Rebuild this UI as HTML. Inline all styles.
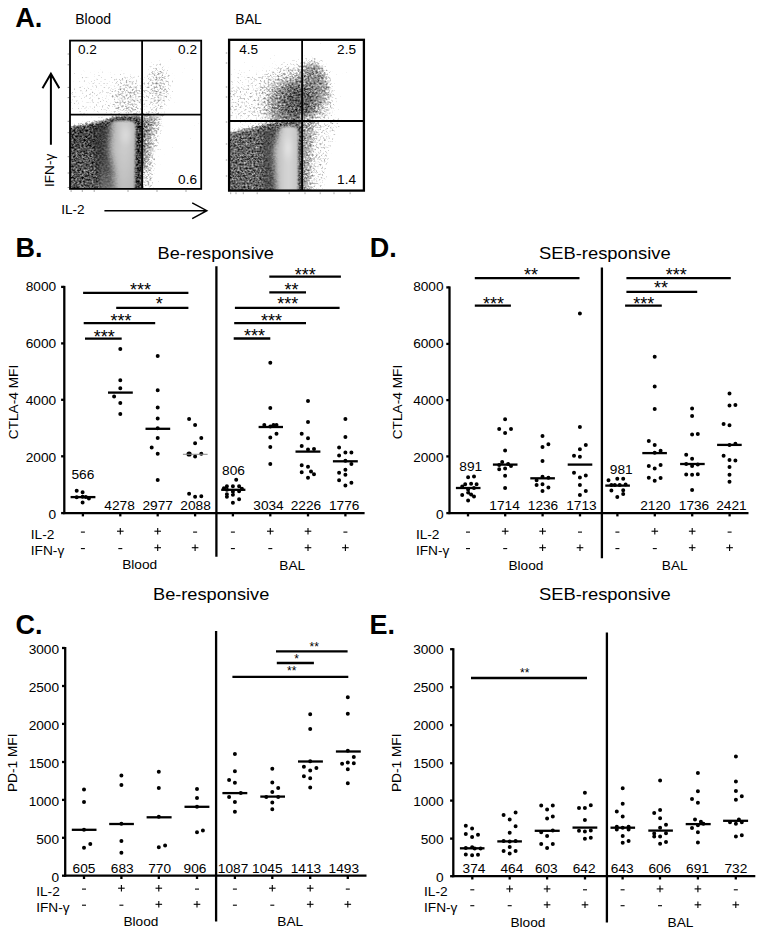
<!DOCTYPE html>
<html><head><meta charset="utf-8"><title>Figure</title>
<style>html,body{margin:0;padding:0;background:#fff}svg{display:block}text{font-family:"Liberation Sans", sans-serif;fill:#000}</style></head><body>
<svg width="762" height="935" viewBox="0 0 762 935">
<rect width="762" height="935" fill="#fff"/>
<defs>
<filter id="stip" x="0" y="0" width="100%" height="100%" filterUnits="objectBoundingBox" color-interpolation-filters="sRGB">
<feGaussianBlur in="SourceGraphic" stdDeviation="1.6" result="d"/>
<feTurbulence type="fractalNoise" baseFrequency="0.5 0.53" numOctaves="2" seed="7" result="n"/>
<feColorMatrix in="n" type="matrix" values="1 0 0 0 0  1 0 0 0 0  1 0 0 0 0  0 0 0 0 1" result="ng"/>
<feComposite in="d" in2="ng" operator="arithmetic" k1="0" k2="1.7" k3="1.15" k4="-0.93"/>
</filter>
<filter id="bl3" x="-20%" y="-20%" width="140%" height="140%"><feGaussianBlur stdDeviation="2.5"/></filter>
<filter id="bl2" x="-20%" y="-20%" width="140%" height="140%"><feGaussianBlur stdDeviation="1.5"/></filter>
<filter id="bl5" x="-50%" y="-50%" width="200%" height="200%"><feGaussianBlur stdDeviation="5"/></filter>
<filter id="bl8" x="-50%" y="-50%" width="200%" height="200%"><feGaussianBlur stdDeviation="8"/></filter>
<radialGradient id="gS1"><stop offset="0" stop-color="#dcdcdc" stop-opacity="1"/><stop offset="0.6" stop-color="#e6e6e6" stop-opacity="1"/><stop offset="1" stop-color="#fff" stop-opacity="1"/></radialGradient>
<radialGradient id="gS2"><stop offset="0" stop-color="#bdbdbd" stop-opacity="1"/><stop offset="0.5" stop-color="#d0d0d0" stop-opacity="1"/><stop offset="1" stop-color="#fff" stop-opacity="1"/></radialGradient>
<radialGradient id="gS3"><stop offset="0" stop-color="#cccccc" stop-opacity="1"/><stop offset="0.6" stop-color="#dddddd" stop-opacity="1"/><stop offset="1" stop-color="#fff" stop-opacity="1"/></radialGradient>
<radialGradient id="gBlob"><stop offset="0" stop-color="#606060" stop-opacity="1"/><stop offset="0.4" stop-color="#707070" stop-opacity="1"/><stop offset="0.62" stop-color="#9a9a9a" stop-opacity="1"/><stop offset="0.8" stop-color="#cfcfcf" stop-opacity="1"/><stop offset="1" stop-color="#ffffff" stop-opacity="1"/></radialGradient>
<radialGradient id="gBlob2"><stop offset="0" stop-color="#6a6a6a" stop-opacity="0.9"/><stop offset="0.5" stop-color="#707070" stop-opacity="0.7"/><stop offset="0.8" stop-color="#909090" stop-opacity="0.3"/><stop offset="1" stop-color="#b0b0b0" stop-opacity="0"/></radialGradient>
<radialGradient id="gLRc"><stop offset="0" stop-color="#666" stop-opacity="1"/><stop offset="0.5" stop-color="#8a8a8a" stop-opacity="0.9"/><stop offset="1" stop-color="#ccc" stop-opacity="0"/></radialGradient>
<radialGradient id="gHot2"><stop offset="0" stop-color="#e4e4e4" stop-opacity="1"/><stop offset="0.5" stop-color="#dcdcdc" stop-opacity="0.7"/><stop offset="1" stop-color="#d4d4d4" stop-opacity="0"/></radialGradient>
<radialGradient id="gHot"><stop offset="0" stop-color="#dcdcdc" stop-opacity="1"/><stop offset="0.5" stop-color="#d6d6d6" stop-opacity="0.7"/><stop offset="1" stop-color="#d0d0d0" stop-opacity="0"/></radialGradient>
<linearGradient id="gFade" x1="0" y1="0" x2="0" y2="1"><stop offset="0" stop-color="#a8a8a8" stop-opacity="0"/><stop offset="1" stop-color="#a8a8a8" stop-opacity="0.45"/></linearGradient>
<linearGradient id="gLR1" gradientUnits="userSpaceOnUse" x1="142" y1="0" x2="164" y2="0"><stop offset="0" stop-color="#909090"/><stop offset="0.5" stop-color="#c0c0c0"/><stop offset="1" stop-color="#f4f4f4"/></linearGradient>
<linearGradient id="gLR2" gradientUnits="userSpaceOnUse" x1="302" y1="0" x2="338" y2="0"><stop offset="0" stop-color="#7a7a7a"/><stop offset="0.25" stop-color="#a8a8a8"/><stop offset="0.5" stop-color="#d8d8d8"/><stop offset="1" stop-color="#f6f6f6"/></linearGradient>
<linearGradient id="gCore1" gradientUnits="userSpaceOnUse" x1="104" y1="0" x2="136" y2="0"><stop offset="0" stop-color="#b0b0b0"/><stop offset="0.4" stop-color="#c2c2c2"/><stop offset="0.64" stop-color="#d0d0d0"/><stop offset="1" stop-color="#bababa"/></linearGradient>
<linearGradient id="gCore2" gradientUnits="userSpaceOnUse" x1="268" y1="0" x2="299" y2="0"><stop offset="0" stop-color="#b4b4b4"/><stop offset="0.4" stop-color="#c6c6c6"/><stop offset="0.65" stop-color="#d8d8d8"/><stop offset="1" stop-color="#c2c2c2"/></linearGradient>
<filter id="bl35" x="-30%" y="-30%" width="160%" height="160%"><feGaussianBlur stdDeviation="3.3"/></filter>
<filter id="bl1" x="-10%" y="-10%" width="120%" height="120%"><feGaussianBlur stdDeviation="1.2"/></filter>
<filter id="bl07" x="-10%" y="-10%" width="120%" height="120%"><feGaussianBlur stdDeviation="0.85"/></filter>
<clipPath id="cpCore1"><path d="M90 200 L90 150 L104 128 Q109 120.8 118 120.8 L130.5 120.8 Q135.8 120.8 135.8 127 L134.6 200Z"/></clipPath>
<clipPath id="cpCore2"><path d="M250 200 L250 160 L272 136 Q278 126.6 286 126.6 L292.5 126.6 Q298.3 126.6 298.3 133 L298.1 200Z"/></clipPath>
<clipPath id="cpA1"><rect x="70" y="40.6" width="131.5" height="148.3"/></clipPath>
<clipPath id="cpA2"><rect x="229.1" y="39.8" width="134.8" height="150.8"/></clipPath>
</defs>
<g clip-path="url(#cpA1)">
<g filter="url(#stip)">
<rect x="60" y="30.6" width="151.2" height="168.3" fill="#fff"/>
<ellipse cx="100" cy="96" rx="40" ry="26" fill="#dadada" filter="url(#bl8)"/>
<ellipse cx="129" cy="98" rx="16" ry="23" fill="#bfbfbf" filter="url(#bl5)"/>
<ellipse cx="158" cy="87" rx="13" ry="25" fill="#bcbcbc" filter="url(#bl5)"/>
<path d="M142 111 L166 111 L160 138 L155 165 L153 194.9 L142 194.9Z" fill="#bcbcbc" filter="url(#bl3)"/>
<path d="M138 116 L155 116 L150 140 L146 170 L138 170Z" fill="#888888" filter="url(#bl3)"/>
<path d="M62 127.5 L96 122 L112 118 L122 116.6 L136 116.4 Q142 116.4 142 122 L142 194.9 L62 194.9Z" fill="#5e5e5e" filter="url(#bl1)"/>
<path d="M136.2 121 L141.5 121 L141.5 194.9 L136 194.9Z" fill="#535353" filter="url(#bl1)"/>
<path d="M112 117.6 L140 117 L140 121 L108 121.4Z" fill="#535353" filter="url(#bl1)"/>
<path d="M92 126 L114 123 L118 175 L98 175Z" fill="#525252" filter="url(#bl3)"/>
<path d="M62 152 L94 148 L100 194.9 L62 194.9Z" fill="#686868" filter="url(#bl3)"/>
</g>
<path d="M94 128 L112 124 L116 196.9 L100 196.9 L96 160Z" fill="#454545" opacity="0.6" filter="url(#bl3)"/>
<g filter="url(#bl07)"><g clip-path="url(#cpCore1)">
<path d="M111 105 L160 105 L160 200.9 L115.5 200.9 L113 170 L108.5 150 L110.5 128Z" fill="url(#gCore1)" filter="url(#bl35)"/>
<ellipse cx="125.5" cy="135" rx="8" ry="14" fill="url(#gHot)"/>
<rect x="100" y="150" width="40" height="45" fill="url(#gFade)"/>
</g></g>
</g>
<line x1="142.1" y1="40.6" x2="142.1" y2="188.9" stroke="#000" stroke-width="1.8"/>
<line x1="70" y1="114.7" x2="201.2" y2="114.7" stroke="#000" stroke-width="1.8"/>
<rect x="70" y="40.6" width="131.2" height="148.3" fill="none" stroke="#000" stroke-width="1.8"/>
<line x1="67.6" y1="54" x2="69" y2="54" stroke="#999" stroke-width="1"/>
<line x1="67.6" y1="64.8" x2="69" y2="64.8" stroke="#999" stroke-width="1"/>
<line x1="67.6" y1="87.4" x2="69" y2="87.4" stroke="#999" stroke-width="1"/>
<line x1="67.6" y1="97.6" x2="69" y2="97.6" stroke="#999" stroke-width="1"/>
<line x1="67.6" y1="121.3" x2="69" y2="121.3" stroke="#999" stroke-width="1"/>
<line x1="67.6" y1="132.7" x2="69" y2="132.7" stroke="#999" stroke-width="1"/>
<line x1="67.6" y1="156.7" x2="69" y2="156.7" stroke="#999" stroke-width="1"/>
<line x1="67.6" y1="173" x2="69" y2="173" stroke="#999" stroke-width="1"/>
<line x1="67.6" y1="187.5" x2="69" y2="187.5" stroke="#999" stroke-width="1"/>
<line x1="71.1" y1="190" x2="71.1" y2="192" stroke="#aaa" stroke-width="1"/>
<line x1="82.3" y1="190" x2="82.3" y2="192" stroke="#aaa" stroke-width="1"/>
<line x1="94.2" y1="190" x2="94.2" y2="192" stroke="#aaa" stroke-width="1"/>
<line x1="128" y1="190" x2="128" y2="192" stroke="#aaa" stroke-width="1"/>
<line x1="157" y1="190" x2="157" y2="192" stroke="#aaa" stroke-width="1"/>
<line x1="186" y1="190" x2="186" y2="192" stroke="#aaa" stroke-width="1"/>
<text x="78" y="54.3" font-size="13.6">0.2</text>
<text x="197" y="54.3" font-size="13.6" text-anchor="end">0.2</text>
<text x="197" y="184.1" font-size="13.6" text-anchor="end">0.6</text>
<g clip-path="url(#cpA2)">
<g filter="url(#stip)">
<rect x="219.1" y="29.799999999999997" width="154.79999999999998" height="170.8" fill="#fff"/>
<path d="M215 80 L262 70 L300 64 L300 125 L215 125Z" fill="#cecece" filter="url(#bl8)"/>
<ellipse cx="297" cy="101" rx="39" ry="37" fill="#bcbcbc" filter="url(#bl5)"/>
<ellipse cx="293" cy="105" rx="24" ry="25" fill="#888888" filter="url(#bl5)"/>
<ellipse cx="313" cy="84" rx="15" ry="24" fill="#888888" filter="url(#bl5)"/>
<ellipse cx="298" cy="103" rx="15" ry="19" fill="#6b6b6b" filter="url(#bl5)"/>
<path d="M302 117 L342 117 L330 150 L324 196.6 L302 196.6Z" fill="#cbcbcb" filter="url(#bl3)"/>
<path d="M300 119 L316 119 L312 150 L310 196.6 L300 196.6Z" fill="#989898" filter="url(#bl3)"/>
<path d="M221.1 134 L250 127.5 L268 123.5 L280 122 L302 121.5 L302 196.6 L221.1 196.6Z" fill="#717171" filter="url(#bl2)"/>
<path d="M298.4 127 L302 127 L302 196.6 L298.2 196.6Z" fill="#565656" filter="url(#bl1)"/>
<path d="M262 128 L280 126 L280 196.6 L264 196.6Z" fill="#5f5f5f" filter="url(#bl3)"/>
</g>
<path d="M262 132 L276 128 L278 198.6 L265 198.6Z" fill="#5a5a5a" opacity="0.55" filter="url(#bl3)"/>
<g filter="url(#bl07)"><g clip-path="url(#cpCore2)">
<path d="M284 110 L320 110 L320 202.6 L277 202.6 L273.5 150Z" fill="url(#gCore2)" filter="url(#bl3)"/>
<ellipse cx="288" cy="148" rx="7" ry="18" fill="url(#gHot2)"/>
</g></g>
</g>
<line x1="302.1" y1="39.8" x2="302.1" y2="190.6" stroke="#000" stroke-width="1.8"/>
<line x1="229.1" y1="121" x2="363.9" y2="121" stroke="#000" stroke-width="1.8"/>
<rect x="229.1" y="39.8" width="134.79999999999998" height="150.8" fill="none" stroke="#000" stroke-width="2.3"/>
<line x1="225.8" y1="53" x2="227.2" y2="53" stroke="#999" stroke-width="1"/>
<line x1="225.8" y1="63" x2="227.2" y2="63" stroke="#999" stroke-width="1"/>
<line x1="225.8" y1="87" x2="227.2" y2="87" stroke="#999" stroke-width="1"/>
<line x1="225.8" y1="97" x2="227.2" y2="97" stroke="#999" stroke-width="1"/>
<line x1="225.8" y1="122" x2="227.2" y2="122" stroke="#999" stroke-width="1"/>
<line x1="225.8" y1="144" x2="227.2" y2="144" stroke="#999" stroke-width="1"/>
<line x1="225.8" y1="160" x2="227.2" y2="160" stroke="#999" stroke-width="1"/>
<line x1="225.8" y1="176" x2="227.2" y2="176" stroke="#999" stroke-width="1"/>
<line x1="230.7" y1="192.3" x2="230.7" y2="194.2" stroke="#aaa" stroke-width="1"/>
<line x1="236" y1="192.3" x2="236" y2="194.2" stroke="#aaa" stroke-width="1"/>
<line x1="243.3" y1="192.3" x2="243.3" y2="194.2" stroke="#aaa" stroke-width="1"/>
<line x1="257.2" y1="192.3" x2="257.2" y2="194.2" stroke="#aaa" stroke-width="1"/>
<line x1="289.2" y1="192.3" x2="289.2" y2="194.2" stroke="#aaa" stroke-width="1"/>
<line x1="305" y1="192.3" x2="305" y2="194.2" stroke="#aaa" stroke-width="1"/>
<line x1="320.2" y1="192.3" x2="320.2" y2="194.2" stroke="#aaa" stroke-width="1"/>
<line x1="334" y1="192.3" x2="334" y2="194.2" stroke="#aaa" stroke-width="1"/>
<line x1="350.1" y1="192.3" x2="350.1" y2="194.2" stroke="#aaa" stroke-width="1"/>
<text x="239.2" y="54" font-size="13.6">4.5</text>
<text x="356" y="54" font-size="13.6" text-anchor="end">2.5</text>
<text x="356" y="184" font-size="13.6" text-anchor="end">1.4</text>
<text x="15.2" y="26.8" font-size="27.2" font-weight="bold">A.</text>
<text x="75.2" y="23.5" font-size="14">Blood</text>
<text x="235.3" y="23.5" font-size="14">BAL</text>
<text x="54.3" y="187" font-size="13.6" transform="rotate(-90 54.3 187)">IFN-γ</text>
<text x="61.2" y="214" font-size="13.6">IL-2</text>
<path d="M50.9 144.7 L50.9 74.5 M42.5 88.3 L50.9 73.8 L59.3 88.3" fill="none" stroke="#000" stroke-width="2" stroke-linejoin="miter"/>
<path d="M104.4 210.7 L206 210.7 M192.2 202.8 L206.8 210.7 L192.2 218.6" fill="none" stroke="#000" stroke-width="1.5" stroke-linejoin="miter"/>
<line x1="64.3" y1="285.9" x2="64.3" y2="514.1" stroke="#000" stroke-width="2.3" stroke-linecap="butt"/>
<line x1="63.3" y1="513.1" x2="364.6" y2="513.1" stroke="#000" stroke-width="2.3" stroke-linecap="butt"/>
<line x1="61.099999999999994" y1="286.9" x2="64.3" y2="286.9" stroke="#000" stroke-width="2.3" stroke-linecap="butt"/>
<text x="56.2" y="291.1" font-size="13.7" text-anchor="end" font-weight="normal">8000</text>
<line x1="61.099999999999994" y1="343.4" x2="64.3" y2="343.4" stroke="#000" stroke-width="2.3" stroke-linecap="butt"/>
<text x="56.2" y="347.97" font-size="13.7" text-anchor="end" font-weight="normal">6000</text>
<line x1="61.099999999999994" y1="399.8" x2="64.3" y2="399.8" stroke="#000" stroke-width="2.3" stroke-linecap="butt"/>
<text x="56.2" y="404.85" font-size="13.7" text-anchor="end" font-weight="normal">4000</text>
<line x1="61.099999999999994" y1="456.3" x2="64.3" y2="456.3" stroke="#000" stroke-width="2.3" stroke-linecap="butt"/>
<text x="56.2" y="461.73" font-size="13.7" text-anchor="end" font-weight="normal">2000</text>
<line x1="61.099999999999994" y1="513.1" x2="64.3" y2="513.1" stroke="#000" stroke-width="2.3" stroke-linecap="butt"/>
<text x="56.2" y="518.6" font-size="13.7" text-anchor="end" font-weight="normal">0</text>
<line x1="216.4" y1="266.2" x2="216.4" y2="556.7" stroke="#000" stroke-width="2.3" stroke-linecap="butt"/>
<line x1="82.9" y1="513.1" x2="82.9" y2="516.4" stroke="#000" stroke-width="2.3" stroke-linecap="butt"/>
<line x1="120.3" y1="513.1" x2="120.3" y2="516.4" stroke="#000" stroke-width="2.3" stroke-linecap="butt"/>
<line x1="157.7" y1="513.1" x2="157.7" y2="516.4" stroke="#000" stroke-width="2.3" stroke-linecap="butt"/>
<line x1="195.1" y1="513.1" x2="195.1" y2="516.4" stroke="#000" stroke-width="2.3" stroke-linecap="butt"/>
<line x1="232.9" y1="513.1" x2="232.9" y2="516.4" stroke="#000" stroke-width="2.3" stroke-linecap="butt"/>
<line x1="270.3" y1="513.1" x2="270.3" y2="516.4" stroke="#000" stroke-width="2.3" stroke-linecap="butt"/>
<line x1="308.0" y1="513.1" x2="308.0" y2="516.4" stroke="#000" stroke-width="2.3" stroke-linecap="butt"/>
<line x1="345.4" y1="513.1" x2="345.4" y2="516.4" stroke="#000" stroke-width="2.3" stroke-linecap="butt"/>
<text x="17.9" y="402" font-size="13.7" text-anchor="middle" font-weight="normal" transform="rotate(-90 17.9 402)">CTLA-4 MFI</text>
<text x="157.6" y="258.7" font-size="17.3" text-anchor="start" font-weight="normal" textLength="116.3" lengthAdjust="spacingAndGlyphs">Be-responsive</text>
<text x="15.5" y="256.8" font-size="27" text-anchor="start" font-weight="bold">B.</text>
<path d="M74.70 490.70a2.0 2.0 0 1 0 4.0 0a2.0 2.0 0 1 0 -4.0 0zM80.60 492.30a2.0 2.0 0 1 0 4.0 0a2.0 2.0 0 1 0 -4.0 0zM74.70 497.30a2.0 2.0 0 1 0 4.0 0a2.0 2.0 0 1 0 -4.0 0zM80.60 496.80a2.0 2.0 0 1 0 4.0 0a2.0 2.0 0 1 0 -4.0 0zM83.80 497.00a2.0 2.0 0 1 0 4.0 0a2.0 2.0 0 1 0 -4.0 0zM86.90 498.60a2.0 2.0 0 1 0 4.0 0a2.0 2.0 0 1 0 -4.0 0zM80.60 502.50a2.0 2.0 0 1 0 4.0 0a2.0 2.0 0 1 0 -4.0 0z" fill="#000"/>
<line x1="70.6" y1="497.1" x2="95.4" y2="497.1" stroke="#000" stroke-width="2.3" stroke-linecap="butt"/>
<text x="82.9" y="478.8" font-size="13.7" text-anchor="middle" font-weight="normal">566</text>
<path d="M118.30 349.00a2.0 2.0 0 1 0 4.0 0a2.0 2.0 0 1 0 -4.0 0zM118.30 380.30a2.0 2.0 0 1 0 4.0 0a2.0 2.0 0 1 0 -4.0 0zM118.30 388.20a2.0 2.0 0 1 0 4.0 0a2.0 2.0 0 1 0 -4.0 0zM112.10 396.40a2.0 2.0 0 1 0 4.0 0a2.0 2.0 0 1 0 -4.0 0zM118.30 402.90a2.0 2.0 0 1 0 4.0 0a2.0 2.0 0 1 0 -4.0 0zM118.30 414.00a2.0 2.0 0 1 0 4.0 0a2.0 2.0 0 1 0 -4.0 0z" fill="#000"/>
<line x1="108" y1="392.6" x2="132.8" y2="392.6" stroke="#000" stroke-width="2.3" stroke-linecap="butt"/>
<text x="119.6" y="510" font-size="13.7" text-anchor="middle" font-weight="normal">4278</text>
<path d="M155.70 356.00a2.0 2.0 0 1 0 4.0 0a2.0 2.0 0 1 0 -4.0 0zM155.70 390.20a2.0 2.0 0 1 0 4.0 0a2.0 2.0 0 1 0 -4.0 0zM155.70 407.60a2.0 2.0 0 1 0 4.0 0a2.0 2.0 0 1 0 -4.0 0zM155.70 418.40a2.0 2.0 0 1 0 4.0 0a2.0 2.0 0 1 0 -4.0 0zM155.70 428.30a2.0 2.0 0 1 0 4.0 0a2.0 2.0 0 1 0 -4.0 0zM155.70 438.10a2.0 2.0 0 1 0 4.0 0a2.0 2.0 0 1 0 -4.0 0zM155.70 453.80a2.0 2.0 0 1 0 4.0 0a2.0 2.0 0 1 0 -4.0 0zM155.70 479.90a2.0 2.0 0 1 0 4.0 0a2.0 2.0 0 1 0 -4.0 0zM149.70 447.50a2.0 2.0 0 1 0 4.0 0a2.0 2.0 0 1 0 -4.0 0z" fill="#000"/>
<line x1="145.5" y1="428.8" x2="170.2" y2="428.8" stroke="#000" stroke-width="2.3" stroke-linecap="butt"/>
<text x="157.7" y="510" font-size="13.7" text-anchor="middle" font-weight="normal">2977</text>
<path d="M187.10 419.10a2.0 2.0 0 1 0 4.0 0a2.0 2.0 0 1 0 -4.0 0zM193.10 424.90a2.0 2.0 0 1 0 4.0 0a2.0 2.0 0 1 0 -4.0 0zM199.30 438.10a2.0 2.0 0 1 0 4.0 0a2.0 2.0 0 1 0 -4.0 0zM193.10 443.30a2.0 2.0 0 1 0 4.0 0a2.0 2.0 0 1 0 -4.0 0zM186.50 454.00a2.6 2.6 0 1 0 5.2 0a2.6 2.6 0 1 0 -5.2 0zM199.30 453.80a2.0 2.0 0 1 0 4.0 0a2.0 2.0 0 1 0 -4.0 0zM193.10 456.60a2.0 2.0 0 1 0 4.0 0a2.0 2.0 0 1 0 -4.0 0zM187.10 493.80a2.0 2.0 0 1 0 4.0 0a2.0 2.0 0 1 0 -4.0 0zM193.10 496.80a2.0 2.0 0 1 0 4.0 0a2.0 2.0 0 1 0 -4.0 0zM199.30 496.30a2.0 2.0 0 1 0 4.0 0a2.0 2.0 0 1 0 -4.0 0z" fill="#000"/>
<line x1="182.9" y1="454.3" x2="207.6" y2="454.3" stroke="#888" stroke-width="1" stroke-linecap="butt"/>
<text x="195.6" y="510" font-size="13.7" text-anchor="middle" font-weight="normal">2088</text>
<path d="M234.20 479.80a2.0 2.0 0 1 0 4.0 0a2.0 2.0 0 1 0 -4.0 0zM224.90 486.30a2.0 2.0 0 1 0 4.0 0a2.0 2.0 0 1 0 -4.0 0zM230.90 486.30a2.0 2.0 0 1 0 4.0 0a2.0 2.0 0 1 0 -4.0 0zM237.10 486.30a2.0 2.0 0 1 0 4.0 0a2.0 2.0 0 1 0 -4.0 0zM221.90 488.30a2.0 2.0 0 1 0 4.0 0a2.0 2.0 0 1 0 -4.0 0zM239.90 488.80a2.0 2.0 0 1 0 4.0 0a2.0 2.0 0 1 0 -4.0 0zM224.90 489.80a2.0 2.0 0 1 0 4.0 0a2.0 2.0 0 1 0 -4.0 0zM230.90 491.80a2.0 2.0 0 1 0 4.0 0a2.0 2.0 0 1 0 -4.0 0zM237.10 491.30a2.0 2.0 0 1 0 4.0 0a2.0 2.0 0 1 0 -4.0 0zM224.90 494.30a2.0 2.0 0 1 0 4.0 0a2.0 2.0 0 1 0 -4.0 0zM230.90 494.80a2.0 2.0 0 1 0 4.0 0a2.0 2.0 0 1 0 -4.0 0zM224.90 496.70a2.0 2.0 0 1 0 4.0 0a2.0 2.0 0 1 0 -4.0 0zM237.10 499.20a2.0 2.0 0 1 0 4.0 0a2.0 2.0 0 1 0 -4.0 0zM230.90 502.70a2.0 2.0 0 1 0 4.0 0a2.0 2.0 0 1 0 -4.0 0z" fill="#000"/>
<line x1="221.2" y1="489.8" x2="245.4" y2="489.8" stroke="#000" stroke-width="2.3" stroke-linecap="butt"/>
<text x="233.5" y="474.8" font-size="13.7" text-anchor="middle" font-weight="normal">806</text>
<path d="M268.30 362.70a2.0 2.0 0 1 0 4.0 0a2.0 2.0 0 1 0 -4.0 0zM268.30 407.90a2.0 2.0 0 1 0 4.0 0a2.0 2.0 0 1 0 -4.0 0zM268.30 426.50a2.0 2.0 0 1 0 4.0 0a2.0 2.0 0 1 0 -4.0 0zM268.30 437.40a2.0 2.0 0 1 0 4.0 0a2.0 2.0 0 1 0 -4.0 0zM268.30 446.90a2.0 2.0 0 1 0 4.0 0a2.0 2.0 0 1 0 -4.0 0zM268.30 464.10a2.0 2.0 0 1 0 4.0 0a2.0 2.0 0 1 0 -4.0 0zM262.30 425.00a2.0 2.0 0 1 0 4.0 0a2.0 2.0 0 1 0 -4.0 0zM271.50 425.00a2.0 2.0 0 1 0 4.0 0a2.0 2.0 0 1 0 -4.0 0zM274.50 425.00a2.0 2.0 0 1 0 4.0 0a2.0 2.0 0 1 0 -4.0 0zM274.50 433.70a2.0 2.0 0 1 0 4.0 0a2.0 2.0 0 1 0 -4.0 0z" fill="#000"/>
<line x1="258.6" y1="427" x2="283" y2="427" stroke="#000" stroke-width="2.3" stroke-linecap="butt"/>
<text x="268.5" y="510.2" font-size="13.7" text-anchor="middle" font-weight="normal">3034</text>
<path d="M306.00 401.00a2.0 2.0 0 1 0 4.0 0a2.0 2.0 0 1 0 -4.0 0zM306.00 422.00a2.0 2.0 0 1 0 4.0 0a2.0 2.0 0 1 0 -4.0 0zM306.00 438.20a2.0 2.0 0 1 0 4.0 0a2.0 2.0 0 1 0 -4.0 0zM306.00 449.40a2.0 2.0 0 1 0 4.0 0a2.0 2.0 0 1 0 -4.0 0zM306.00 466.80a2.0 2.0 0 1 0 4.0 0a2.0 2.0 0 1 0 -4.0 0zM306.00 477.80a2.0 2.0 0 1 0 4.0 0a2.0 2.0 0 1 0 -4.0 0zM299.70 433.80a2.0 2.0 0 1 0 4.0 0a2.0 2.0 0 1 0 -4.0 0zM299.70 446.10a2.0 2.0 0 1 0 4.0 0a2.0 2.0 0 1 0 -4.0 0zM312.00 448.90a2.0 2.0 0 1 0 4.0 0a2.0 2.0 0 1 0 -4.0 0zM299.70 465.30a2.0 2.0 0 1 0 4.0 0a2.0 2.0 0 1 0 -4.0 0zM299.70 472.30a2.0 2.0 0 1 0 4.0 0a2.0 2.0 0 1 0 -4.0 0zM309.00 471.60a2.0 2.0 0 1 0 4.0 0a2.0 2.0 0 1 0 -4.0 0zM312.00 474.30a2.0 2.0 0 1 0 4.0 0a2.0 2.0 0 1 0 -4.0 0z" fill="#000"/>
<line x1="295.5" y1="451.6" x2="320.4" y2="451.6" stroke="#000" stroke-width="2.3" stroke-linecap="butt"/>
<text x="305.9" y="510.2" font-size="13.7" text-anchor="middle" font-weight="normal">2226</text>
<path d="M343.40 419.00a2.0 2.0 0 1 0 4.0 0a2.0 2.0 0 1 0 -4.0 0zM343.40 437.00a2.0 2.0 0 1 0 4.0 0a2.0 2.0 0 1 0 -4.0 0zM343.40 452.60a2.0 2.0 0 1 0 4.0 0a2.0 2.0 0 1 0 -4.0 0zM343.40 460.80a2.0 2.0 0 1 0 4.0 0a2.0 2.0 0 1 0 -4.0 0zM343.40 469.80a2.0 2.0 0 1 0 4.0 0a2.0 2.0 0 1 0 -4.0 0zM343.40 474.80a2.0 2.0 0 1 0 4.0 0a2.0 2.0 0 1 0 -4.0 0zM343.40 485.50a2.0 2.0 0 1 0 4.0 0a2.0 2.0 0 1 0 -4.0 0zM337.10 447.40a2.0 2.0 0 1 0 4.0 0a2.0 2.0 0 1 0 -4.0 0zM349.40 452.60a2.0 2.0 0 1 0 4.0 0a2.0 2.0 0 1 0 -4.0 0zM337.10 455.40a2.0 2.0 0 1 0 4.0 0a2.0 2.0 0 1 0 -4.0 0zM349.40 464.10a2.0 2.0 0 1 0 4.0 0a2.0 2.0 0 1 0 -4.0 0zM337.10 472.80a2.0 2.0 0 1 0 4.0 0a2.0 2.0 0 1 0 -4.0 0zM337.10 480.30a2.0 2.0 0 1 0 4.0 0a2.0 2.0 0 1 0 -4.0 0zM349.40 482.80a2.0 2.0 0 1 0 4.0 0a2.0 2.0 0 1 0 -4.0 0z" fill="#000"/>
<line x1="332.9" y1="461.3" x2="357.8" y2="461.3" stroke="#000" stroke-width="2.3" stroke-linecap="butt"/>
<text x="344.2" y="510.2" font-size="13.7" text-anchor="middle" font-weight="normal">1776</text>
<line x1="83.1" y1="292.9" x2="188.4" y2="292.9" stroke="#000" stroke-width="2.3" stroke-linecap="butt"/>
<line x1="116.2" y1="307.9" x2="188.4" y2="307.9" stroke="#000" stroke-width="2.3" stroke-linecap="butt"/>
<line x1="83.7" y1="323.2" x2="155.2" y2="323.2" stroke="#000" stroke-width="2.3" stroke-linecap="butt"/>
<line x1="85" y1="338.6" x2="121.7" y2="338.6" stroke="#000" stroke-width="2.3" stroke-linecap="butt"/>
<line x1="269.3" y1="276.7" x2="340.9" y2="276.7" stroke="#000" stroke-width="2.3" stroke-linecap="butt"/>
<line x1="269.3" y1="292.4" x2="306" y2="292.4" stroke="#000" stroke-width="2.3" stroke-linecap="butt"/>
<line x1="234.9" y1="307.9" x2="339.6" y2="307.9" stroke="#000" stroke-width="2.3" stroke-linecap="butt"/>
<line x1="234.2" y1="323.1" x2="306" y2="323.1" stroke="#000" stroke-width="2.3" stroke-linecap="butt"/>
<line x1="233.7" y1="338.5" x2="270.3" y2="338.5" stroke="#000" stroke-width="2.3" stroke-linecap="butt"/>
<text x="140.5" y="295.64" font-size="18" text-anchor="middle" font-weight="normal">***</text>
<text x="159.2" y="310.34" font-size="18" text-anchor="middle" font-weight="normal">*</text>
<text x="121" y="326.74" font-size="18" text-anchor="middle" font-weight="normal">***</text>
<text x="104.3" y="342.94" font-size="18" text-anchor="middle" font-weight="normal">***</text>
<text x="305.2" y="280.54" font-size="18" text-anchor="middle" font-weight="normal">***</text>
<text x="291.5" y="295.54" font-size="18" text-anchor="middle" font-weight="normal">**</text>
<text x="287.8" y="310.24" font-size="18" text-anchor="middle" font-weight="normal">***</text>
<text x="271.6" y="326.74" font-size="18" text-anchor="middle" font-weight="normal">***</text>
<text x="254.4" y="342.14" font-size="18" text-anchor="middle" font-weight="normal">***</text>
<line x1="80.9" y1="532.1" x2="84.9" y2="532.1" stroke="#000" stroke-width="1.1" stroke-linecap="butt"/>
<line x1="80.9" y1="548.6" x2="84.9" y2="548.6" stroke="#000" stroke-width="1.1" stroke-linecap="butt"/>
<line x1="117.0" y1="531.2" x2="123.6" y2="531.2" stroke="#000" stroke-width="1.1" stroke-linecap="butt"/>
<line x1="120.3" y1="527.9000000000001" x2="120.3" y2="534.5" stroke="#000" stroke-width="1.1" stroke-linecap="butt"/>
<line x1="118.3" y1="548.6" x2="122.3" y2="548.6" stroke="#000" stroke-width="1.1" stroke-linecap="butt"/>
<line x1="154.39999999999998" y1="531.2" x2="161.0" y2="531.2" stroke="#000" stroke-width="1.1" stroke-linecap="butt"/>
<line x1="157.7" y1="527.9000000000001" x2="157.7" y2="534.5" stroke="#000" stroke-width="1.1" stroke-linecap="butt"/>
<line x1="154.39999999999998" y1="547.7" x2="161.0" y2="547.7" stroke="#000" stroke-width="1.1" stroke-linecap="butt"/>
<line x1="157.7" y1="544.4000000000001" x2="157.7" y2="551.0" stroke="#000" stroke-width="1.1" stroke-linecap="butt"/>
<line x1="193.1" y1="532.1" x2="197.1" y2="532.1" stroke="#000" stroke-width="1.1" stroke-linecap="butt"/>
<line x1="191.79999999999998" y1="547.7" x2="198.4" y2="547.7" stroke="#000" stroke-width="1.1" stroke-linecap="butt"/>
<line x1="195.1" y1="544.4000000000001" x2="195.1" y2="551.0" stroke="#000" stroke-width="1.1" stroke-linecap="butt"/>
<line x1="230.9" y1="532.1" x2="234.9" y2="532.1" stroke="#000" stroke-width="1.1" stroke-linecap="butt"/>
<line x1="230.9" y1="548.6" x2="234.9" y2="548.6" stroke="#000" stroke-width="1.1" stroke-linecap="butt"/>
<line x1="267.0" y1="531.2" x2="273.6" y2="531.2" stroke="#000" stroke-width="1.1" stroke-linecap="butt"/>
<line x1="270.3" y1="527.9000000000001" x2="270.3" y2="534.5" stroke="#000" stroke-width="1.1" stroke-linecap="butt"/>
<line x1="268.3" y1="548.6" x2="272.3" y2="548.6" stroke="#000" stroke-width="1.1" stroke-linecap="butt"/>
<line x1="304.7" y1="531.2" x2="311.3" y2="531.2" stroke="#000" stroke-width="1.1" stroke-linecap="butt"/>
<line x1="308.0" y1="527.9000000000001" x2="308.0" y2="534.5" stroke="#000" stroke-width="1.1" stroke-linecap="butt"/>
<line x1="304.7" y1="547.7" x2="311.3" y2="547.7" stroke="#000" stroke-width="1.1" stroke-linecap="butt"/>
<line x1="308.0" y1="544.4000000000001" x2="308.0" y2="551.0" stroke="#000" stroke-width="1.1" stroke-linecap="butt"/>
<line x1="343.4" y1="532.1" x2="347.4" y2="532.1" stroke="#000" stroke-width="1.1" stroke-linecap="butt"/>
<line x1="342.09999999999997" y1="547.7" x2="348.7" y2="547.7" stroke="#000" stroke-width="1.1" stroke-linecap="butt"/>
<line x1="345.4" y1="544.4000000000001" x2="345.4" y2="551.0" stroke="#000" stroke-width="1.1" stroke-linecap="butt"/>
<text x="30.8" y="538.9" font-size="13.7" text-anchor="start" font-weight="normal">IL-2</text>
<text x="30.8" y="555.1" font-size="13.7" text-anchor="start" font-weight="normal">IFN-γ</text>
<text x="139.7" y="569.3" font-size="13.7" text-anchor="middle" font-weight="normal">Blood</text>
<text x="292.3" y="569.6" font-size="13.7" text-anchor="middle" font-weight="normal">BAL</text>
<line x1="449.5" y1="286.4" x2="449.5" y2="514.1" stroke="#000" stroke-width="2.3" stroke-linecap="butt"/>
<line x1="448.5" y1="513.1" x2="748.5" y2="513.1" stroke="#000" stroke-width="2.3" stroke-linecap="butt"/>
<line x1="446.3" y1="287.4" x2="449.5" y2="287.4" stroke="#000" stroke-width="2.3" stroke-linecap="butt"/>
<text x="443.6" y="291.3" font-size="13.7" text-anchor="end" font-weight="normal">8000</text>
<line x1="446.3" y1="343.9" x2="449.5" y2="343.9" stroke="#000" stroke-width="2.3" stroke-linecap="butt"/>
<text x="443.6" y="348.12" font-size="13.7" text-anchor="end" font-weight="normal">6000</text>
<line x1="446.3" y1="400.1" x2="449.5" y2="400.1" stroke="#000" stroke-width="2.3" stroke-linecap="butt"/>
<text x="443.6" y="404.95" font-size="13.7" text-anchor="end" font-weight="normal">4000</text>
<line x1="446.3" y1="456.4" x2="449.5" y2="456.4" stroke="#000" stroke-width="2.3" stroke-linecap="butt"/>
<text x="443.6" y="461.77" font-size="13.7" text-anchor="end" font-weight="normal">2000</text>
<line x1="446.3" y1="513.1" x2="449.5" y2="513.1" stroke="#000" stroke-width="2.3" stroke-linecap="butt"/>
<text x="443.6" y="518.6" font-size="13.7" text-anchor="end" font-weight="normal">0</text>
<line x1="601.9" y1="267.4" x2="601.9" y2="558.3" stroke="#000" stroke-width="2.3" stroke-linecap="butt"/>
<line x1="468" y1="513.1" x2="468" y2="516.4" stroke="#000" stroke-width="2.3" stroke-linecap="butt"/>
<line x1="505.2" y1="513.1" x2="505.2" y2="516.4" stroke="#000" stroke-width="2.3" stroke-linecap="butt"/>
<line x1="542.6" y1="513.1" x2="542.6" y2="516.4" stroke="#000" stroke-width="2.3" stroke-linecap="butt"/>
<line x1="580" y1="513.1" x2="580" y2="516.4" stroke="#000" stroke-width="2.3" stroke-linecap="butt"/>
<line x1="617.4" y1="513.1" x2="617.4" y2="516.4" stroke="#000" stroke-width="2.3" stroke-linecap="butt"/>
<line x1="654.8" y1="513.1" x2="654.8" y2="516.4" stroke="#000" stroke-width="2.3" stroke-linecap="butt"/>
<line x1="692.2" y1="513.1" x2="692.2" y2="516.4" stroke="#000" stroke-width="2.3" stroke-linecap="butt"/>
<line x1="729.6" y1="513.1" x2="729.6" y2="516.4" stroke="#000" stroke-width="2.3" stroke-linecap="butt"/>
<text x="402.2" y="402" font-size="13.7" text-anchor="middle" font-weight="normal" transform="rotate(-90 402.2 402)">CTLA-4 MFI</text>
<text x="539.0" y="258.7" font-size="17.3" text-anchor="start" font-weight="normal" textLength="131.6" lengthAdjust="spacingAndGlyphs">SEB-responsive</text>
<text x="369.8" y="256.8" font-size="27" text-anchor="start" font-weight="bold">D.</text>
<path d="M466.10 477.20a2.0 2.0 0 1 0 4.0 0a2.0 2.0 0 1 0 -4.0 0zM472.00 476.40a2.0 2.0 0 1 0 4.0 0a2.0 2.0 0 1 0 -4.0 0zM463.20 484.30a2.0 2.0 0 1 0 4.0 0a2.0 2.0 0 1 0 -4.0 0zM469.10 483.70a2.0 2.0 0 1 0 4.0 0a2.0 2.0 0 1 0 -4.0 0zM474.60 484.30a2.0 2.0 0 1 0 4.0 0a2.0 2.0 0 1 0 -4.0 0zM460.20 486.60a2.0 2.0 0 1 0 4.0 0a2.0 2.0 0 1 0 -4.0 0zM466.10 489.60a2.0 2.0 0 1 0 4.0 0a2.0 2.0 0 1 0 -4.0 0zM472.00 488.00a2.0 2.0 0 1 0 4.0 0a2.0 2.0 0 1 0 -4.0 0zM460.20 495.10a2.0 2.0 0 1 0 4.0 0a2.0 2.0 0 1 0 -4.0 0zM466.10 492.50a2.0 2.0 0 1 0 4.0 0a2.0 2.0 0 1 0 -4.0 0zM469.10 494.50a2.0 2.0 0 1 0 4.0 0a2.0 2.0 0 1 0 -4.0 0zM472.00 496.50a2.0 2.0 0 1 0 4.0 0a2.0 2.0 0 1 0 -4.0 0zM466.10 500.40a2.0 2.0 0 1 0 4.0 0a2.0 2.0 0 1 0 -4.0 0z" fill="#000"/>
<line x1="455.9" y1="488" x2="480.5" y2="488" stroke="#000" stroke-width="2.3" stroke-linecap="butt"/>
<text x="470.7" y="470.9" font-size="13.7" text-anchor="middle" font-weight="normal">891</text>
<path d="M503.10 419.30a2.0 2.0 0 1 0 4.0 0a2.0 2.0 0 1 0 -4.0 0zM503.10 432.90a2.0 2.0 0 1 0 4.0 0a2.0 2.0 0 1 0 -4.0 0zM503.10 450.60a2.0 2.0 0 1 0 4.0 0a2.0 2.0 0 1 0 -4.0 0zM503.10 468.50a2.0 2.0 0 1 0 4.0 0a2.0 2.0 0 1 0 -4.0 0zM503.10 475.80a2.0 2.0 0 1 0 4.0 0a2.0 2.0 0 1 0 -4.0 0zM503.10 488.00a2.0 2.0 0 1 0 4.0 0a2.0 2.0 0 1 0 -4.0 0zM497.20 428.90a2.0 2.0 0 1 0 4.0 0a2.0 2.0 0 1 0 -4.0 0zM509.00 428.90a2.0 2.0 0 1 0 4.0 0a2.0 2.0 0 1 0 -4.0 0zM500.20 462.00a2.0 2.0 0 1 0 4.0 0a2.0 2.0 0 1 0 -4.0 0zM497.20 465.00a2.0 2.0 0 1 0 4.0 0a2.0 2.0 0 1 0 -4.0 0zM506.10 464.00a2.0 2.0 0 1 0 4.0 0a2.0 2.0 0 1 0 -4.0 0zM509.00 466.00a2.0 2.0 0 1 0 4.0 0a2.0 2.0 0 1 0 -4.0 0zM497.20 469.30a2.0 2.0 0 1 0 4.0 0a2.0 2.0 0 1 0 -4.0 0z" fill="#000"/>
<line x1="492.9" y1="464.6" x2="517.5" y2="464.6" stroke="#000" stroke-width="2.3" stroke-linecap="butt"/>
<text x="504.6" y="509.5" font-size="13.7" text-anchor="middle" font-weight="normal">1714</text>
<path d="M540.50 436.00a2.0 2.0 0 1 0 4.0 0a2.0 2.0 0 1 0 -4.0 0zM540.50 446.90a2.0 2.0 0 1 0 4.0 0a2.0 2.0 0 1 0 -4.0 0zM540.50 461.00a2.0 2.0 0 1 0 4.0 0a2.0 2.0 0 1 0 -4.0 0zM540.50 476.80a2.0 2.0 0 1 0 4.0 0a2.0 2.0 0 1 0 -4.0 0zM540.50 484.30a2.0 2.0 0 1 0 4.0 0a2.0 2.0 0 1 0 -4.0 0zM540.50 491.10a2.0 2.0 0 1 0 4.0 0a2.0 2.0 0 1 0 -4.0 0zM546.40 444.30a2.0 2.0 0 1 0 4.0 0a2.0 2.0 0 1 0 -4.0 0zM546.40 477.80a2.0 2.0 0 1 0 4.0 0a2.0 2.0 0 1 0 -4.0 0zM534.60 480.30a2.0 2.0 0 1 0 4.0 0a2.0 2.0 0 1 0 -4.0 0zM534.60 485.00a2.0 2.0 0 1 0 4.0 0a2.0 2.0 0 1 0 -4.0 0zM546.40 487.60a2.0 2.0 0 1 0 4.0 0a2.0 2.0 0 1 0 -4.0 0z" fill="#000"/>
<line x1="530.3" y1="478.3" x2="554.9" y2="478.3" stroke="#000" stroke-width="2.3" stroke-linecap="butt"/>
<text x="543" y="509.5" font-size="13.7" text-anchor="middle" font-weight="normal">1236</text>
<path d="M577.90 313.60a2.0 2.0 0 1 0 4.0 0a2.0 2.0 0 1 0 -4.0 0zM577.90 427.00a2.0 2.0 0 1 0 4.0 0a2.0 2.0 0 1 0 -4.0 0zM577.90 449.20a2.0 2.0 0 1 0 4.0 0a2.0 2.0 0 1 0 -4.0 0zM577.90 456.70a2.0 2.0 0 1 0 4.0 0a2.0 2.0 0 1 0 -4.0 0zM577.90 477.40a2.0 2.0 0 1 0 4.0 0a2.0 2.0 0 1 0 -4.0 0zM577.90 485.00a2.0 2.0 0 1 0 4.0 0a2.0 2.0 0 1 0 -4.0 0zM577.90 494.90a2.0 2.0 0 1 0 4.0 0a2.0 2.0 0 1 0 -4.0 0zM583.80 444.90a2.0 2.0 0 1 0 4.0 0a2.0 2.0 0 1 0 -4.0 0zM572.00 455.70a2.0 2.0 0 1 0 4.0 0a2.0 2.0 0 1 0 -4.0 0zM572.00 472.80a2.0 2.0 0 1 0 4.0 0a2.0 2.0 0 1 0 -4.0 0zM583.80 475.40a2.0 2.0 0 1 0 4.0 0a2.0 2.0 0 1 0 -4.0 0zM583.80 490.90a2.0 2.0 0 1 0 4.0 0a2.0 2.0 0 1 0 -4.0 0z" fill="#000"/>
<line x1="567.7" y1="464.6" x2="592.3" y2="464.6" stroke="#000" stroke-width="2.3" stroke-linecap="butt"/>
<text x="581.4" y="509.5" font-size="13.7" text-anchor="middle" font-weight="normal">1713</text>
<path d="M606.50 480.30a2.0 2.0 0 1 0 4.0 0a2.0 2.0 0 1 0 -4.0 0zM615.30 478.70a2.0 2.0 0 1 0 4.0 0a2.0 2.0 0 1 0 -4.0 0zM621.20 478.70a2.0 2.0 0 1 0 4.0 0a2.0 2.0 0 1 0 -4.0 0zM609.40 485.00a2.0 2.0 0 1 0 4.0 0a2.0 2.0 0 1 0 -4.0 0zM612.80 485.00a2.0 2.0 0 1 0 4.0 0a2.0 2.0 0 1 0 -4.0 0zM617.70 485.00a2.0 2.0 0 1 0 4.0 0a2.0 2.0 0 1 0 -4.0 0zM623.60 484.60a2.0 2.0 0 1 0 4.0 0a2.0 2.0 0 1 0 -4.0 0zM609.40 490.60a2.0 2.0 0 1 0 4.0 0a2.0 2.0 0 1 0 -4.0 0zM621.20 490.20a2.0 2.0 0 1 0 4.0 0a2.0 2.0 0 1 0 -4.0 0zM621.20 494.10a2.0 2.0 0 1 0 4.0 0a2.0 2.0 0 1 0 -4.0 0zM615.30 496.90a2.0 2.0 0 1 0 4.0 0a2.0 2.0 0 1 0 -4.0 0z" fill="#000"/>
<line x1="605.3" y1="485.6" x2="629.9" y2="485.6" stroke="#000" stroke-width="2.3" stroke-linecap="butt"/>
<text x="621.2" y="473.8" font-size="13.7" text-anchor="middle" font-weight="normal">981</text>
<path d="M652.70 356.70a2.0 2.0 0 1 0 4.0 0a2.0 2.0 0 1 0 -4.0 0zM652.70 386.60a2.0 2.0 0 1 0 4.0 0a2.0 2.0 0 1 0 -4.0 0zM652.70 408.90a2.0 2.0 0 1 0 4.0 0a2.0 2.0 0 1 0 -4.0 0zM652.70 444.90a2.0 2.0 0 1 0 4.0 0a2.0 2.0 0 1 0 -4.0 0zM652.70 452.80a2.0 2.0 0 1 0 4.0 0a2.0 2.0 0 1 0 -4.0 0zM652.70 468.50a2.0 2.0 0 1 0 4.0 0a2.0 2.0 0 1 0 -4.0 0zM652.70 480.70a2.0 2.0 0 1 0 4.0 0a2.0 2.0 0 1 0 -4.0 0zM646.80 440.90a2.0 2.0 0 1 0 4.0 0a2.0 2.0 0 1 0 -4.0 0zM658.60 450.80a2.0 2.0 0 1 0 4.0 0a2.0 2.0 0 1 0 -4.0 0zM646.80 465.90a2.0 2.0 0 1 0 4.0 0a2.0 2.0 0 1 0 -4.0 0zM658.60 465.00a2.0 2.0 0 1 0 4.0 0a2.0 2.0 0 1 0 -4.0 0zM646.80 477.80a2.0 2.0 0 1 0 4.0 0a2.0 2.0 0 1 0 -4.0 0zM658.60 478.10a2.0 2.0 0 1 0 4.0 0a2.0 2.0 0 1 0 -4.0 0z" fill="#000"/>
<line x1="642.3" y1="453.1" x2="666.9" y2="453.1" stroke="#000" stroke-width="2.3" stroke-linecap="butt"/>
<text x="655.4" y="509.6" font-size="13.7" text-anchor="middle" font-weight="normal">2120</text>
<path d="M690.10 408.50a2.0 2.0 0 1 0 4.0 0a2.0 2.0 0 1 0 -4.0 0zM690.10 416.10a2.0 2.0 0 1 0 4.0 0a2.0 2.0 0 1 0 -4.0 0zM690.10 434.40a2.0 2.0 0 1 0 4.0 0a2.0 2.0 0 1 0 -4.0 0zM690.10 458.70a2.0 2.0 0 1 0 4.0 0a2.0 2.0 0 1 0 -4.0 0zM690.10 465.90a2.0 2.0 0 1 0 4.0 0a2.0 2.0 0 1 0 -4.0 0zM690.10 474.80a2.0 2.0 0 1 0 4.0 0a2.0 2.0 0 1 0 -4.0 0zM690.10 490.00a2.0 2.0 0 1 0 4.0 0a2.0 2.0 0 1 0 -4.0 0zM695.80 434.10a2.0 2.0 0 1 0 4.0 0a2.0 2.0 0 1 0 -4.0 0zM684.20 454.70a2.0 2.0 0 1 0 4.0 0a2.0 2.0 0 1 0 -4.0 0zM684.20 464.00a2.0 2.0 0 1 0 4.0 0a2.0 2.0 0 1 0 -4.0 0zM695.80 464.60a2.0 2.0 0 1 0 4.0 0a2.0 2.0 0 1 0 -4.0 0zM684.20 474.40a2.0 2.0 0 1 0 4.0 0a2.0 2.0 0 1 0 -4.0 0zM695.80 474.20a2.0 2.0 0 1 0 4.0 0a2.0 2.0 0 1 0 -4.0 0z" fill="#000"/>
<line x1="680.1" y1="464" x2="704.7" y2="464" stroke="#000" stroke-width="2.3" stroke-linecap="butt"/>
<text x="694" y="509.6" font-size="13.7" text-anchor="middle" font-weight="normal">1736</text>
<path d="M727.50 393.60a2.0 2.0 0 1 0 4.0 0a2.0 2.0 0 1 0 -4.0 0zM727.50 405.50a2.0 2.0 0 1 0 4.0 0a2.0 2.0 0 1 0 -4.0 0zM727.50 425.20a2.0 2.0 0 1 0 4.0 0a2.0 2.0 0 1 0 -4.0 0zM727.50 444.90a2.0 2.0 0 1 0 4.0 0a2.0 2.0 0 1 0 -4.0 0zM727.50 460.00a2.0 2.0 0 1 0 4.0 0a2.0 2.0 0 1 0 -4.0 0zM727.50 466.90a2.0 2.0 0 1 0 4.0 0a2.0 2.0 0 1 0 -4.0 0zM727.50 474.80a2.0 2.0 0 1 0 4.0 0a2.0 2.0 0 1 0 -4.0 0zM727.50 481.70a2.0 2.0 0 1 0 4.0 0a2.0 2.0 0 1 0 -4.0 0zM733.40 404.90a2.0 2.0 0 1 0 4.0 0a2.0 2.0 0 1 0 -4.0 0zM721.60 424.00a2.0 2.0 0 1 0 4.0 0a2.0 2.0 0 1 0 -4.0 0zM733.40 443.70a2.0 2.0 0 1 0 4.0 0a2.0 2.0 0 1 0 -4.0 0zM721.60 455.70a2.0 2.0 0 1 0 4.0 0a2.0 2.0 0 1 0 -4.0 0zM733.40 460.40a2.0 2.0 0 1 0 4.0 0a2.0 2.0 0 1 0 -4.0 0z" fill="#000"/>
<line x1="717.1" y1="444.9" x2="741.7" y2="444.9" stroke="#000" stroke-width="2.3" stroke-linecap="butt"/>
<text x="731.4" y="509.6" font-size="13.7" text-anchor="middle" font-weight="normal">2421</text>
<line x1="474.8" y1="278.2" x2="579.5" y2="278.2" stroke="#000" stroke-width="2.3" stroke-linecap="butt"/>
<line x1="474.8" y1="305.6" x2="510.9" y2="305.6" stroke="#000" stroke-width="2.3" stroke-linecap="butt"/>
<line x1="626.4" y1="278.2" x2="730.8" y2="278.2" stroke="#000" stroke-width="2.3" stroke-linecap="butt"/>
<line x1="626.4" y1="291.9" x2="697.2" y2="291.9" stroke="#000" stroke-width="2.3" stroke-linecap="butt"/>
<line x1="625.1" y1="305.6" x2="661.8" y2="305.6" stroke="#000" stroke-width="2.3" stroke-linecap="butt"/>
<text x="530.9" y="280.54" font-size="18" text-anchor="middle" font-weight="normal">**</text>
<text x="493.5" y="310.24" font-size="18" text-anchor="middle" font-weight="normal">***</text>
<text x="676.2" y="280.54" font-size="18" text-anchor="middle" font-weight="normal">***</text>
<text x="661" y="294.24" font-size="18" text-anchor="middle" font-weight="normal">**</text>
<text x="643.8" y="310.24" font-size="18" text-anchor="middle" font-weight="normal">***</text>
<line x1="466.0" y1="532.1" x2="470.0" y2="532.1" stroke="#000" stroke-width="1.1" stroke-linecap="butt"/>
<line x1="466.0" y1="548.6" x2="470.0" y2="548.6" stroke="#000" stroke-width="1.1" stroke-linecap="butt"/>
<line x1="501.9" y1="531.2" x2="508.5" y2="531.2" stroke="#000" stroke-width="1.1" stroke-linecap="butt"/>
<line x1="505.2" y1="527.9000000000001" x2="505.2" y2="534.5" stroke="#000" stroke-width="1.1" stroke-linecap="butt"/>
<line x1="503.2" y1="548.6" x2="507.2" y2="548.6" stroke="#000" stroke-width="1.1" stroke-linecap="butt"/>
<line x1="539.3000000000001" y1="531.2" x2="545.9" y2="531.2" stroke="#000" stroke-width="1.1" stroke-linecap="butt"/>
<line x1="542.6" y1="527.9000000000001" x2="542.6" y2="534.5" stroke="#000" stroke-width="1.1" stroke-linecap="butt"/>
<line x1="539.3000000000001" y1="547.7" x2="545.9" y2="547.7" stroke="#000" stroke-width="1.1" stroke-linecap="butt"/>
<line x1="542.6" y1="544.4000000000001" x2="542.6" y2="551.0" stroke="#000" stroke-width="1.1" stroke-linecap="butt"/>
<line x1="578.0" y1="532.1" x2="582.0" y2="532.1" stroke="#000" stroke-width="1.1" stroke-linecap="butt"/>
<line x1="576.7" y1="547.7" x2="583.3" y2="547.7" stroke="#000" stroke-width="1.1" stroke-linecap="butt"/>
<line x1="580" y1="544.4000000000001" x2="580" y2="551.0" stroke="#000" stroke-width="1.1" stroke-linecap="butt"/>
<line x1="615.4" y1="532.1" x2="619.4" y2="532.1" stroke="#000" stroke-width="1.1" stroke-linecap="butt"/>
<line x1="615.4" y1="548.6" x2="619.4" y2="548.6" stroke="#000" stroke-width="1.1" stroke-linecap="butt"/>
<line x1="651.5" y1="531.2" x2="658.0999999999999" y2="531.2" stroke="#000" stroke-width="1.1" stroke-linecap="butt"/>
<line x1="654.8" y1="527.9000000000001" x2="654.8" y2="534.5" stroke="#000" stroke-width="1.1" stroke-linecap="butt"/>
<line x1="652.8" y1="548.6" x2="656.8" y2="548.6" stroke="#000" stroke-width="1.1" stroke-linecap="butt"/>
<line x1="688.9000000000001" y1="531.2" x2="695.5" y2="531.2" stroke="#000" stroke-width="1.1" stroke-linecap="butt"/>
<line x1="692.2" y1="527.9000000000001" x2="692.2" y2="534.5" stroke="#000" stroke-width="1.1" stroke-linecap="butt"/>
<line x1="688.9000000000001" y1="547.7" x2="695.5" y2="547.7" stroke="#000" stroke-width="1.1" stroke-linecap="butt"/>
<line x1="692.2" y1="544.4000000000001" x2="692.2" y2="551.0" stroke="#000" stroke-width="1.1" stroke-linecap="butt"/>
<line x1="727.6" y1="532.1" x2="731.6" y2="532.1" stroke="#000" stroke-width="1.1" stroke-linecap="butt"/>
<line x1="726.3000000000001" y1="547.7" x2="732.9" y2="547.7" stroke="#000" stroke-width="1.1" stroke-linecap="butt"/>
<line x1="729.6" y1="544.4000000000001" x2="729.6" y2="551.0" stroke="#000" stroke-width="1.1" stroke-linecap="butt"/>
<text x="415.9" y="538.9" font-size="13.7" text-anchor="start" font-weight="normal">IL-2</text>
<text x="415.9" y="555.1" font-size="13.7" text-anchor="start" font-weight="normal">IFN-γ</text>
<text x="525.9" y="569.6" font-size="13.7" text-anchor="middle" font-weight="normal">Blood</text>
<text x="674.7" y="569.6" font-size="13.7" text-anchor="middle" font-weight="normal">BAL</text>
<line x1="65.2" y1="647.0" x2="65.2" y2="876.7" stroke="#000" stroke-width="2.3" stroke-linecap="butt"/>
<line x1="64.2" y1="875.7" x2="366.5" y2="875.7" stroke="#000" stroke-width="2.3" stroke-linecap="butt"/>
<line x1="62.0" y1="648.0" x2="65.2" y2="648.0" stroke="#000" stroke-width="2.3" stroke-linecap="butt"/>
<text x="59.1" y="654.1" font-size="13.7" text-anchor="end" font-weight="normal">3000</text>
<line x1="62.0" y1="686" x2="65.2" y2="686" stroke="#000" stroke-width="2.3" stroke-linecap="butt"/>
<text x="59.1" y="692.07" font-size="13.7" text-anchor="end" font-weight="normal">2500</text>
<line x1="62.0" y1="723.9" x2="65.2" y2="723.9" stroke="#000" stroke-width="2.3" stroke-linecap="butt"/>
<text x="59.1" y="730.03" font-size="13.7" text-anchor="end" font-weight="normal">2000</text>
<line x1="62.0" y1="762" x2="65.2" y2="762" stroke="#000" stroke-width="2.3" stroke-linecap="butt"/>
<text x="59.1" y="768.0" font-size="13.7" text-anchor="end" font-weight="normal">1500</text>
<line x1="62.0" y1="799.9" x2="65.2" y2="799.9" stroke="#000" stroke-width="2.3" stroke-linecap="butt"/>
<text x="59.1" y="805.97" font-size="13.7" text-anchor="end" font-weight="normal">1000</text>
<line x1="62.0" y1="837.8" x2="65.2" y2="837.8" stroke="#000" stroke-width="2.3" stroke-linecap="butt"/>
<text x="59.1" y="843.93" font-size="13.7" text-anchor="end" font-weight="normal">500</text>
<line x1="62.0" y1="875.7" x2="65.2" y2="875.7" stroke="#000" stroke-width="2.3" stroke-linecap="butt"/>
<text x="59.1" y="881.9" font-size="13.7" text-anchor="end" font-weight="normal">0</text>
<line x1="216.1" y1="631.1" x2="216.1" y2="921.5" stroke="#000" stroke-width="2.3" stroke-linecap="butt"/>
<line x1="84" y1="875.7" x2="84" y2="879.0" stroke="#000" stroke-width="2.3" stroke-linecap="butt"/>
<line x1="121.4" y1="875.7" x2="121.4" y2="879.0" stroke="#000" stroke-width="2.3" stroke-linecap="butt"/>
<line x1="158.8" y1="875.7" x2="158.8" y2="879.0" stroke="#000" stroke-width="2.3" stroke-linecap="butt"/>
<line x1="197" y1="875.7" x2="197" y2="879.0" stroke="#000" stroke-width="2.3" stroke-linecap="butt"/>
<line x1="234.9" y1="875.7" x2="234.9" y2="879.0" stroke="#000" stroke-width="2.3" stroke-linecap="butt"/>
<line x1="272.3" y1="875.7" x2="272.3" y2="879.0" stroke="#000" stroke-width="2.3" stroke-linecap="butt"/>
<line x1="310.2" y1="875.7" x2="310.2" y2="879.0" stroke="#000" stroke-width="2.3" stroke-linecap="butt"/>
<line x1="347.8" y1="875.7" x2="347.8" y2="879.0" stroke="#000" stroke-width="2.3" stroke-linecap="butt"/>
<text x="16.8" y="762.8" font-size="13.7" text-anchor="middle" font-weight="normal" transform="rotate(-90 16.8 762.8)">PD-1 MFI</text>
<text x="153.0" y="600.4" font-size="17.3" text-anchor="start" font-weight="normal" textLength="116.3" lengthAdjust="spacingAndGlyphs">Be-responsive</text>
<text x="15.5" y="633.6" font-size="27" text-anchor="start" font-weight="bold">C.</text>
<path d="M82.00 789.40a2.0 2.0 0 1 0 4.0 0a2.0 2.0 0 1 0 -4.0 0zM82.00 801.90a2.0 2.0 0 1 0 4.0 0a2.0 2.0 0 1 0 -4.0 0zM82.00 829.80a2.0 2.0 0 1 0 4.0 0a2.0 2.0 0 1 0 -4.0 0zM82.00 847.70a2.0 2.0 0 1 0 4.0 0a2.0 2.0 0 1 0 -4.0 0zM88.30 844.00a2.0 2.0 0 1 0 4.0 0a2.0 2.0 0 1 0 -4.0 0z" fill="#000"/>
<line x1="71.8" y1="829.8" x2="96.5" y2="829.8" stroke="#000" stroke-width="2.3" stroke-linecap="butt"/>
<text x="84" y="873.4" font-size="13.7" text-anchor="middle" font-weight="normal">605</text>
<path d="M119.40 775.40a2.0 2.0 0 1 0 4.0 0a2.0 2.0 0 1 0 -4.0 0zM119.40 784.90a2.0 2.0 0 1 0 4.0 0a2.0 2.0 0 1 0 -4.0 0zM119.40 823.80a2.0 2.0 0 1 0 4.0 0a2.0 2.0 0 1 0 -4.0 0zM119.40 841.00a2.0 2.0 0 1 0 4.0 0a2.0 2.0 0 1 0 -4.0 0zM119.40 852.70a2.0 2.0 0 1 0 4.0 0a2.0 2.0 0 1 0 -4.0 0z" fill="#000"/>
<line x1="109.2" y1="824" x2="133.9" y2="824" stroke="#000" stroke-width="2.3" stroke-linecap="butt"/>
<text x="122.2" y="873.4" font-size="13.7" text-anchor="middle" font-weight="normal">683</text>
<path d="M156.80 771.70a2.0 2.0 0 1 0 4.0 0a2.0 2.0 0 1 0 -4.0 0zM156.80 787.90a2.0 2.0 0 1 0 4.0 0a2.0 2.0 0 1 0 -4.0 0zM156.80 816.80a2.0 2.0 0 1 0 4.0 0a2.0 2.0 0 1 0 -4.0 0zM156.80 847.20a2.0 2.0 0 1 0 4.0 0a2.0 2.0 0 1 0 -4.0 0zM163.10 845.50a2.0 2.0 0 1 0 4.0 0a2.0 2.0 0 1 0 -4.0 0z" fill="#000"/>
<line x1="146.6" y1="817.3" x2="171.6" y2="817.3" stroke="#000" stroke-width="2.3" stroke-linecap="butt"/>
<text x="159.6" y="873.4" font-size="13.7" text-anchor="middle" font-weight="normal">770</text>
<path d="M195.00 789.10a2.0 2.0 0 1 0 4.0 0a2.0 2.0 0 1 0 -4.0 0zM195.00 798.10a2.0 2.0 0 1 0 4.0 0a2.0 2.0 0 1 0 -4.0 0zM195.00 806.80a2.0 2.0 0 1 0 4.0 0a2.0 2.0 0 1 0 -4.0 0zM195.00 832.30a2.0 2.0 0 1 0 4.0 0a2.0 2.0 0 1 0 -4.0 0zM200.90 830.50a2.0 2.0 0 1 0 4.0 0a2.0 2.0 0 1 0 -4.0 0z" fill="#000"/>
<line x1="184.5" y1="806.8" x2="209.4" y2="806.8" stroke="#000" stroke-width="2.3" stroke-linecap="butt"/>
<text x="195" y="873.4" font-size="13.7" text-anchor="middle" font-weight="normal">906</text>
<path d="M232.90 754.00a2.0 2.0 0 1 0 4.0 0a2.0 2.0 0 1 0 -4.0 0zM232.90 771.20a2.0 2.0 0 1 0 4.0 0a2.0 2.0 0 1 0 -4.0 0zM232.90 782.70a2.0 2.0 0 1 0 4.0 0a2.0 2.0 0 1 0 -4.0 0zM232.90 801.90a2.0 2.0 0 1 0 4.0 0a2.0 2.0 0 1 0 -4.0 0zM232.90 811.80a2.0 2.0 0 1 0 4.0 0a2.0 2.0 0 1 0 -4.0 0zM227.10 779.90a2.0 2.0 0 1 0 4.0 0a2.0 2.0 0 1 0 -4.0 0zM238.80 792.90a2.0 2.0 0 1 0 4.0 0a2.0 2.0 0 1 0 -4.0 0zM227.10 796.90a2.0 2.0 0 1 0 4.0 0a2.0 2.0 0 1 0 -4.0 0z" fill="#000"/>
<line x1="222.4" y1="793.1" x2="247.3" y2="793.1" stroke="#000" stroke-width="2.3" stroke-linecap="butt"/>
<text x="233.1" y="873.4" font-size="13.7" text-anchor="middle" font-weight="normal">1087</text>
<path d="M270.30 768.70a2.0 2.0 0 1 0 4.0 0a2.0 2.0 0 1 0 -4.0 0zM270.30 782.40a2.0 2.0 0 1 0 4.0 0a2.0 2.0 0 1 0 -4.0 0zM270.30 791.90a2.0 2.0 0 1 0 4.0 0a2.0 2.0 0 1 0 -4.0 0zM270.30 802.40a2.0 2.0 0 1 0 4.0 0a2.0 2.0 0 1 0 -4.0 0zM270.30 809.30a2.0 2.0 0 1 0 4.0 0a2.0 2.0 0 1 0 -4.0 0zM276.20 787.90a2.0 2.0 0 1 0 4.0 0a2.0 2.0 0 1 0 -4.0 0zM264.30 796.90a2.0 2.0 0 1 0 4.0 0a2.0 2.0 0 1 0 -4.0 0zM276.20 796.90a2.0 2.0 0 1 0 4.0 0a2.0 2.0 0 1 0 -4.0 0z" fill="#000"/>
<line x1="260.3" y1="796.6" x2="285" y2="796.6" stroke="#000" stroke-width="2.3" stroke-linecap="butt"/>
<text x="267.3" y="873.4" font-size="13.7" text-anchor="middle" font-weight="normal">1045</text>
<path d="M308.20 714.20a2.0 2.0 0 1 0 4.0 0a2.0 2.0 0 1 0 -4.0 0zM308.20 729.10a2.0 2.0 0 1 0 4.0 0a2.0 2.0 0 1 0 -4.0 0zM308.20 761.20a2.0 2.0 0 1 0 4.0 0a2.0 2.0 0 1 0 -4.0 0zM308.20 770.40a2.0 2.0 0 1 0 4.0 0a2.0 2.0 0 1 0 -4.0 0zM308.20 778.20a2.0 2.0 0 1 0 4.0 0a2.0 2.0 0 1 0 -4.0 0zM308.20 787.40a2.0 2.0 0 1 0 4.0 0a2.0 2.0 0 1 0 -4.0 0zM301.90 766.70a2.0 2.0 0 1 0 4.0 0a2.0 2.0 0 1 0 -4.0 0zM314.40 767.90a2.0 2.0 0 1 0 4.0 0a2.0 2.0 0 1 0 -4.0 0zM301.90 776.20a2.0 2.0 0 1 0 4.0 0a2.0 2.0 0 1 0 -4.0 0z" fill="#000"/>
<line x1="298" y1="761.5" x2="322.9" y2="761.5" stroke="#000" stroke-width="2.3" stroke-linecap="butt"/>
<text x="305.9" y="873.4" font-size="13.7" text-anchor="middle" font-weight="normal">1413</text>
<path d="M345.80 697.20a2.0 2.0 0 1 0 4.0 0a2.0 2.0 0 1 0 -4.0 0zM345.80 713.70a2.0 2.0 0 1 0 4.0 0a2.0 2.0 0 1 0 -4.0 0zM345.80 750.80a2.0 2.0 0 1 0 4.0 0a2.0 2.0 0 1 0 -4.0 0zM345.80 762.50a2.0 2.0 0 1 0 4.0 0a2.0 2.0 0 1 0 -4.0 0zM345.80 769.20a2.0 2.0 0 1 0 4.0 0a2.0 2.0 0 1 0 -4.0 0zM345.80 783.20a2.0 2.0 0 1 0 4.0 0a2.0 2.0 0 1 0 -4.0 0zM351.80 757.00a2.0 2.0 0 1 0 4.0 0a2.0 2.0 0 1 0 -4.0 0zM340.10 763.70a2.0 2.0 0 1 0 4.0 0a2.0 2.0 0 1 0 -4.0 0zM351.80 763.20a2.0 2.0 0 1 0 4.0 0a2.0 2.0 0 1 0 -4.0 0z" fill="#000"/>
<line x1="335.9" y1="751.5" x2="360.8" y2="751.5" stroke="#000" stroke-width="2.3" stroke-linecap="butt"/>
<text x="343.8" y="873.4" font-size="13.7" text-anchor="middle" font-weight="normal">1493</text>
<line x1="276" y1="651.3" x2="347.6" y2="651.3" stroke="#000" stroke-width="2.3" stroke-linecap="butt"/>
<line x1="276.8" y1="663" x2="313.9" y2="663" stroke="#000" stroke-width="2.3" stroke-linecap="butt"/>
<line x1="232.4" y1="676.8" x2="348.3" y2="676.8" stroke="#000" stroke-width="2.3" stroke-linecap="butt"/>
<text x="314.2" y="651.06" font-size="12" text-anchor="middle" font-weight="normal">**</text>
<text x="296.7" y="662.56" font-size="12" text-anchor="middle" font-weight="normal">*</text>
<text x="291.7" y="675.06" font-size="12" text-anchor="middle" font-weight="normal">**</text>
<line x1="82.0" y1="889.1" x2="86.0" y2="889.1" stroke="#000" stroke-width="1.1" stroke-linecap="butt"/>
<line x1="82.0" y1="905.1999999999999" x2="86.0" y2="905.1999999999999" stroke="#000" stroke-width="1.1" stroke-linecap="butt"/>
<line x1="118.10000000000001" y1="888.2" x2="124.7" y2="888.2" stroke="#000" stroke-width="1.1" stroke-linecap="butt"/>
<line x1="121.4" y1="884.9000000000001" x2="121.4" y2="891.5" stroke="#000" stroke-width="1.1" stroke-linecap="butt"/>
<line x1="119.4" y1="905.1999999999999" x2="123.4" y2="905.1999999999999" stroke="#000" stroke-width="1.1" stroke-linecap="butt"/>
<line x1="155.5" y1="888.2" x2="162.10000000000002" y2="888.2" stroke="#000" stroke-width="1.1" stroke-linecap="butt"/>
<line x1="158.8" y1="884.9000000000001" x2="158.8" y2="891.5" stroke="#000" stroke-width="1.1" stroke-linecap="butt"/>
<line x1="155.5" y1="904.3" x2="162.10000000000002" y2="904.3" stroke="#000" stroke-width="1.1" stroke-linecap="butt"/>
<line x1="158.8" y1="901.0" x2="158.8" y2="907.5999999999999" stroke="#000" stroke-width="1.1" stroke-linecap="butt"/>
<line x1="195.0" y1="889.1" x2="199.0" y2="889.1" stroke="#000" stroke-width="1.1" stroke-linecap="butt"/>
<line x1="193.7" y1="904.3" x2="200.3" y2="904.3" stroke="#000" stroke-width="1.1" stroke-linecap="butt"/>
<line x1="197" y1="901.0" x2="197" y2="907.5999999999999" stroke="#000" stroke-width="1.1" stroke-linecap="butt"/>
<line x1="232.9" y1="889.1" x2="236.9" y2="889.1" stroke="#000" stroke-width="1.1" stroke-linecap="butt"/>
<line x1="232.9" y1="905.1999999999999" x2="236.9" y2="905.1999999999999" stroke="#000" stroke-width="1.1" stroke-linecap="butt"/>
<line x1="269.0" y1="888.2" x2="275.6" y2="888.2" stroke="#000" stroke-width="1.1" stroke-linecap="butt"/>
<line x1="272.3" y1="884.9000000000001" x2="272.3" y2="891.5" stroke="#000" stroke-width="1.1" stroke-linecap="butt"/>
<line x1="270.3" y1="905.1999999999999" x2="274.3" y2="905.1999999999999" stroke="#000" stroke-width="1.1" stroke-linecap="butt"/>
<line x1="306.9" y1="888.2" x2="313.5" y2="888.2" stroke="#000" stroke-width="1.1" stroke-linecap="butt"/>
<line x1="310.2" y1="884.9000000000001" x2="310.2" y2="891.5" stroke="#000" stroke-width="1.1" stroke-linecap="butt"/>
<line x1="306.9" y1="904.3" x2="313.5" y2="904.3" stroke="#000" stroke-width="1.1" stroke-linecap="butt"/>
<line x1="310.2" y1="901.0" x2="310.2" y2="907.5999999999999" stroke="#000" stroke-width="1.1" stroke-linecap="butt"/>
<line x1="345.8" y1="889.1" x2="349.8" y2="889.1" stroke="#000" stroke-width="1.1" stroke-linecap="butt"/>
<line x1="344.5" y1="904.3" x2="351.1" y2="904.3" stroke="#000" stroke-width="1.1" stroke-linecap="butt"/>
<line x1="347.8" y1="901.0" x2="347.8" y2="907.5999999999999" stroke="#000" stroke-width="1.1" stroke-linecap="butt"/>
<text x="36.2" y="895.9" font-size="13.7" text-anchor="start" font-weight="normal">IL-2</text>
<text x="36.2" y="911.6" font-size="13.7" text-anchor="start" font-weight="normal">IFN-γ</text>
<text x="140.9" y="925.8" font-size="13.7" text-anchor="middle" font-weight="normal">Blood</text>
<text x="290.2" y="925.8" font-size="13.7" text-anchor="middle" font-weight="normal">BAL</text>
<line x1="453.3" y1="648.2" x2="453.3" y2="877.2" stroke="#000" stroke-width="2.3" stroke-linecap="butt"/>
<line x1="452.3" y1="876.2" x2="755.3" y2="876.2" stroke="#000" stroke-width="2.3" stroke-linecap="butt"/>
<line x1="450.1" y1="649.2" x2="453.3" y2="649.2" stroke="#000" stroke-width="2.3" stroke-linecap="butt"/>
<text x="443.6" y="654.1" font-size="13.7" text-anchor="end" font-weight="normal">3000</text>
<line x1="450.1" y1="687.2" x2="453.3" y2="687.2" stroke="#000" stroke-width="2.3" stroke-linecap="butt"/>
<text x="443.6" y="692.1" font-size="13.7" text-anchor="end" font-weight="normal">2500</text>
<line x1="450.1" y1="725.1" x2="453.3" y2="725.1" stroke="#000" stroke-width="2.3" stroke-linecap="butt"/>
<text x="443.6" y="730.1" font-size="13.7" text-anchor="end" font-weight="normal">2000</text>
<line x1="450.1" y1="763.2" x2="453.3" y2="763.2" stroke="#000" stroke-width="2.3" stroke-linecap="butt"/>
<text x="443.6" y="768.1" font-size="13.7" text-anchor="end" font-weight="normal">1500</text>
<line x1="450.1" y1="800.6" x2="453.3" y2="800.6" stroke="#000" stroke-width="2.3" stroke-linecap="butt"/>
<text x="443.6" y="806.1" font-size="13.7" text-anchor="end" font-weight="normal">1000</text>
<line x1="450.1" y1="838.6" x2="453.3" y2="838.6" stroke="#000" stroke-width="2.3" stroke-linecap="butt"/>
<text x="443.6" y="844.1" font-size="13.7" text-anchor="end" font-weight="normal">500</text>
<line x1="450.1" y1="876.2" x2="453.3" y2="876.2" stroke="#000" stroke-width="2.3" stroke-linecap="butt"/>
<text x="443.6" y="882.1" font-size="13.7" text-anchor="end" font-weight="normal">0</text>
<line x1="606.9" y1="632.4" x2="606.9" y2="922.5" stroke="#000" stroke-width="2.3" stroke-linecap="butt"/>
<line x1="472.3" y1="876.2" x2="472.3" y2="879.5" stroke="#000" stroke-width="2.3" stroke-linecap="butt"/>
<line x1="509.7" y1="876.2" x2="509.7" y2="879.5" stroke="#000" stroke-width="2.3" stroke-linecap="butt"/>
<line x1="547.1" y1="876.2" x2="547.1" y2="879.5" stroke="#000" stroke-width="2.3" stroke-linecap="butt"/>
<line x1="585" y1="876.2" x2="585" y2="879.5" stroke="#000" stroke-width="2.3" stroke-linecap="butt"/>
<line x1="622.6" y1="876.2" x2="622.6" y2="879.5" stroke="#000" stroke-width="2.3" stroke-linecap="butt"/>
<line x1="660" y1="876.2" x2="660" y2="879.5" stroke="#000" stroke-width="2.3" stroke-linecap="butt"/>
<line x1="697.9" y1="876.2" x2="697.9" y2="879.5" stroke="#000" stroke-width="2.3" stroke-linecap="butt"/>
<line x1="735.8" y1="876.2" x2="735.8" y2="879.5" stroke="#000" stroke-width="2.3" stroke-linecap="butt"/>
<text x="401.3" y="762.8" font-size="13.7" text-anchor="middle" font-weight="normal" transform="rotate(-90 401.3 762.8)">PD-1 MFI</text>
<text x="539.0" y="600.4" font-size="17.3" text-anchor="start" font-weight="normal" textLength="131.6" lengthAdjust="spacingAndGlyphs">SEB-responsive</text>
<text x="369.4" y="633.6" font-size="27" text-anchor="start" font-weight="bold">E.</text>
<path d="M463.80 825.70a2.0 2.0 0 1 0 4.0 0a2.0 2.0 0 1 0 -4.0 0zM470.10 828.60a2.0 2.0 0 1 0 4.0 0a2.0 2.0 0 1 0 -4.0 0zM463.80 834.10a2.0 2.0 0 1 0 4.0 0a2.0 2.0 0 1 0 -4.0 0zM476.00 834.70a2.0 2.0 0 1 0 4.0 0a2.0 2.0 0 1 0 -4.0 0zM470.10 837.10a2.0 2.0 0 1 0 4.0 0a2.0 2.0 0 1 0 -4.0 0zM463.80 847.90a2.0 2.0 0 1 0 4.0 0a2.0 2.0 0 1 0 -4.0 0zM470.10 847.30a2.0 2.0 0 1 0 4.0 0a2.0 2.0 0 1 0 -4.0 0zM472.70 848.50a2.0 2.0 0 1 0 4.0 0a2.0 2.0 0 1 0 -4.0 0zM478.60 848.50a2.0 2.0 0 1 0 4.0 0a2.0 2.0 0 1 0 -4.0 0zM463.80 854.40a2.0 2.0 0 1 0 4.0 0a2.0 2.0 0 1 0 -4.0 0zM470.10 855.20a2.0 2.0 0 1 0 4.0 0a2.0 2.0 0 1 0 -4.0 0zM476.00 854.80a2.0 2.0 0 1 0 4.0 0a2.0 2.0 0 1 0 -4.0 0z" fill="#000"/>
<line x1="459.9" y1="848.3" x2="484.5" y2="848.3" stroke="#000" stroke-width="2.3" stroke-linecap="butt"/>
<text x="474" y="872.9" font-size="13.7" text-anchor="middle" font-weight="normal">374</text>
<path d="M507.70 819.40a2.0 2.0 0 1 0 4.0 0a2.0 2.0 0 1 0 -4.0 0zM507.70 832.80a2.0 2.0 0 1 0 4.0 0a2.0 2.0 0 1 0 -4.0 0zM507.70 841.40a2.0 2.0 0 1 0 4.0 0a2.0 2.0 0 1 0 -4.0 0zM507.70 846.90a2.0 2.0 0 1 0 4.0 0a2.0 2.0 0 1 0 -4.0 0zM507.70 853.40a2.0 2.0 0 1 0 4.0 0a2.0 2.0 0 1 0 -4.0 0zM501.60 815.00a2.0 2.0 0 1 0 4.0 0a2.0 2.0 0 1 0 -4.0 0zM513.60 812.50a2.0 2.0 0 1 0 4.0 0a2.0 2.0 0 1 0 -4.0 0zM513.60 826.30a2.0 2.0 0 1 0 4.0 0a2.0 2.0 0 1 0 -4.0 0zM501.60 841.00a2.0 2.0 0 1 0 4.0 0a2.0 2.0 0 1 0 -4.0 0zM513.60 841.00a2.0 2.0 0 1 0 4.0 0a2.0 2.0 0 1 0 -4.0 0zM501.60 850.90a2.0 2.0 0 1 0 4.0 0a2.0 2.0 0 1 0 -4.0 0zM513.60 850.90a2.0 2.0 0 1 0 4.0 0a2.0 2.0 0 1 0 -4.0 0z" fill="#000"/>
<line x1="497.3" y1="841.4" x2="521.9" y2="841.4" stroke="#000" stroke-width="2.3" stroke-linecap="butt"/>
<text x="511.9" y="872.9" font-size="13.7" text-anchor="middle" font-weight="normal">464</text>
<path d="M545.10 809.50a2.0 2.0 0 1 0 4.0 0a2.0 2.0 0 1 0 -4.0 0zM545.10 818.40a2.0 2.0 0 1 0 4.0 0a2.0 2.0 0 1 0 -4.0 0zM545.10 836.10a2.0 2.0 0 1 0 4.0 0a2.0 2.0 0 1 0 -4.0 0zM545.10 847.90a2.0 2.0 0 1 0 4.0 0a2.0 2.0 0 1 0 -4.0 0zM539.20 805.60a2.0 2.0 0 1 0 4.0 0a2.0 2.0 0 1 0 -4.0 0zM550.80 805.60a2.0 2.0 0 1 0 4.0 0a2.0 2.0 0 1 0 -4.0 0zM550.80 816.40a2.0 2.0 0 1 0 4.0 0a2.0 2.0 0 1 0 -4.0 0zM539.20 832.20a2.0 2.0 0 1 0 4.0 0a2.0 2.0 0 1 0 -4.0 0zM550.80 830.60a2.0 2.0 0 1 0 4.0 0a2.0 2.0 0 1 0 -4.0 0zM539.20 844.00a2.0 2.0 0 1 0 4.0 0a2.0 2.0 0 1 0 -4.0 0zM550.80 844.00a2.0 2.0 0 1 0 4.0 0a2.0 2.0 0 1 0 -4.0 0z" fill="#000"/>
<line x1="534.7" y1="830.8" x2="559.7" y2="830.8" stroke="#000" stroke-width="2.3" stroke-linecap="butt"/>
<text x="546.3" y="872.9" font-size="13.7" text-anchor="middle" font-weight="normal">603</text>
<path d="M582.90 792.80a2.0 2.0 0 1 0 4.0 0a2.0 2.0 0 1 0 -4.0 0zM582.90 808.10a2.0 2.0 0 1 0 4.0 0a2.0 2.0 0 1 0 -4.0 0zM582.90 820.00a2.0 2.0 0 1 0 4.0 0a2.0 2.0 0 1 0 -4.0 0zM582.90 831.60a2.0 2.0 0 1 0 4.0 0a2.0 2.0 0 1 0 -4.0 0zM582.90 838.70a2.0 2.0 0 1 0 4.0 0a2.0 2.0 0 1 0 -4.0 0zM577.00 808.10a2.0 2.0 0 1 0 4.0 0a2.0 2.0 0 1 0 -4.0 0zM588.80 805.20a2.0 2.0 0 1 0 4.0 0a2.0 2.0 0 1 0 -4.0 0zM577.00 830.80a2.0 2.0 0 1 0 4.0 0a2.0 2.0 0 1 0 -4.0 0zM588.80 830.60a2.0 2.0 0 1 0 4.0 0a2.0 2.0 0 1 0 -4.0 0zM588.80 837.70a2.0 2.0 0 1 0 4.0 0a2.0 2.0 0 1 0 -4.0 0z" fill="#000"/>
<line x1="572.5" y1="827.6" x2="597.3" y2="827.6" stroke="#000" stroke-width="2.3" stroke-linecap="butt"/>
<text x="584.1" y="872.9" font-size="13.7" text-anchor="middle" font-weight="normal">642</text>
<path d="M620.70 788.30a2.0 2.0 0 1 0 4.0 0a2.0 2.0 0 1 0 -4.0 0zM620.70 803.70a2.0 2.0 0 1 0 4.0 0a2.0 2.0 0 1 0 -4.0 0zM620.70 816.50a2.0 2.0 0 1 0 4.0 0a2.0 2.0 0 1 0 -4.0 0zM620.70 827.70a2.0 2.0 0 1 0 4.0 0a2.0 2.0 0 1 0 -4.0 0zM620.70 835.90a2.0 2.0 0 1 0 4.0 0a2.0 2.0 0 1 0 -4.0 0zM620.70 842.80a2.0 2.0 0 1 0 4.0 0a2.0 2.0 0 1 0 -4.0 0zM614.80 811.50a2.0 2.0 0 1 0 4.0 0a2.0 2.0 0 1 0 -4.0 0zM614.80 826.70a2.0 2.0 0 1 0 4.0 0a2.0 2.0 0 1 0 -4.0 0zM626.60 826.70a2.0 2.0 0 1 0 4.0 0a2.0 2.0 0 1 0 -4.0 0zM614.80 829.60a2.0 2.0 0 1 0 4.0 0a2.0 2.0 0 1 0 -4.0 0zM626.60 829.60a2.0 2.0 0 1 0 4.0 0a2.0 2.0 0 1 0 -4.0 0zM626.60 841.10a2.0 2.0 0 1 0 4.0 0a2.0 2.0 0 1 0 -4.0 0z" fill="#000"/>
<line x1="610.5" y1="827.7" x2="635.1" y2="827.7" stroke="#000" stroke-width="2.3" stroke-linecap="butt"/>
<text x="622.2" y="873" font-size="13.7" text-anchor="middle" font-weight="normal">643</text>
<path d="M658.10 780.40a2.0 2.0 0 1 0 4.0 0a2.0 2.0 0 1 0 -4.0 0zM658.10 810.00a2.0 2.0 0 1 0 4.0 0a2.0 2.0 0 1 0 -4.0 0zM658.10 818.20a2.0 2.0 0 1 0 4.0 0a2.0 2.0 0 1 0 -4.0 0zM658.10 827.70a2.0 2.0 0 1 0 4.0 0a2.0 2.0 0 1 0 -4.0 0zM658.10 836.50a2.0 2.0 0 1 0 4.0 0a2.0 2.0 0 1 0 -4.0 0zM658.10 843.80a2.0 2.0 0 1 0 4.0 0a2.0 2.0 0 1 0 -4.0 0zM652.20 812.90a2.0 2.0 0 1 0 4.0 0a2.0 2.0 0 1 0 -4.0 0zM664.00 824.70a2.0 2.0 0 1 0 4.0 0a2.0 2.0 0 1 0 -4.0 0zM652.20 833.60a2.0 2.0 0 1 0 4.0 0a2.0 2.0 0 1 0 -4.0 0zM664.00 833.20a2.0 2.0 0 1 0 4.0 0a2.0 2.0 0 1 0 -4.0 0zM652.20 836.50a2.0 2.0 0 1 0 4.0 0a2.0 2.0 0 1 0 -4.0 0zM664.00 841.90a2.0 2.0 0 1 0 4.0 0a2.0 2.0 0 1 0 -4.0 0z" fill="#000"/>
<line x1="648.3" y1="830.6" x2="672.9" y2="830.6" stroke="#000" stroke-width="2.3" stroke-linecap="butt"/>
<text x="659.8" y="873" font-size="13.7" text-anchor="middle" font-weight="normal">606</text>
<path d="M695.90 773.10a2.0 2.0 0 1 0 4.0 0a2.0 2.0 0 1 0 -4.0 0zM695.90 791.30a2.0 2.0 0 1 0 4.0 0a2.0 2.0 0 1 0 -4.0 0zM695.90 802.70a2.0 2.0 0 1 0 4.0 0a2.0 2.0 0 1 0 -4.0 0zM695.90 825.30a2.0 2.0 0 1 0 4.0 0a2.0 2.0 0 1 0 -4.0 0zM695.90 832.20a2.0 2.0 0 1 0 4.0 0a2.0 2.0 0 1 0 -4.0 0zM695.90 842.40a2.0 2.0 0 1 0 4.0 0a2.0 2.0 0 1 0 -4.0 0zM690.00 799.10a2.0 2.0 0 1 0 4.0 0a2.0 2.0 0 1 0 -4.0 0zM693.00 819.40a2.0 2.0 0 1 0 4.0 0a2.0 2.0 0 1 0 -4.0 0zM698.90 821.80a2.0 2.0 0 1 0 4.0 0a2.0 2.0 0 1 0 -4.0 0zM701.40 823.70a2.0 2.0 0 1 0 4.0 0a2.0 2.0 0 1 0 -4.0 0zM690.00 828.10a2.0 2.0 0 1 0 4.0 0a2.0 2.0 0 1 0 -4.0 0z" fill="#000"/>
<line x1="685.7" y1="824.1" x2="710.7" y2="824.1" stroke="#000" stroke-width="2.3" stroke-linecap="butt"/>
<text x="697.5" y="873" font-size="13.7" text-anchor="middle" font-weight="normal">691</text>
<path d="M733.90 756.40a2.0 2.0 0 1 0 4.0 0a2.0 2.0 0 1 0 -4.0 0zM733.90 781.40a2.0 2.0 0 1 0 4.0 0a2.0 2.0 0 1 0 -4.0 0zM733.90 790.90a2.0 2.0 0 1 0 4.0 0a2.0 2.0 0 1 0 -4.0 0zM733.90 799.70a2.0 2.0 0 1 0 4.0 0a2.0 2.0 0 1 0 -4.0 0zM733.90 823.70a2.0 2.0 0 1 0 4.0 0a2.0 2.0 0 1 0 -4.0 0zM733.90 836.50a2.0 2.0 0 1 0 4.0 0a2.0 2.0 0 1 0 -4.0 0zM739.80 796.20a2.0 2.0 0 1 0 4.0 0a2.0 2.0 0 1 0 -4.0 0zM736.90 819.40a2.0 2.0 0 1 0 4.0 0a2.0 2.0 0 1 0 -4.0 0zM728.00 822.20a2.0 2.0 0 1 0 4.0 0a2.0 2.0 0 1 0 -4.0 0zM739.80 822.20a2.0 2.0 0 1 0 4.0 0a2.0 2.0 0 1 0 -4.0 0zM739.80 835.20a2.0 2.0 0 1 0 4.0 0a2.0 2.0 0 1 0 -4.0 0z" fill="#000"/>
<line x1="723.1" y1="820.8" x2="748.1" y2="820.8" stroke="#000" stroke-width="2.3" stroke-linecap="butt"/>
<text x="735.9" y="873" font-size="13.7" text-anchor="middle" font-weight="normal">732</text>
<line x1="471" y1="678" x2="587" y2="678" stroke="#000" stroke-width="2.3" stroke-linecap="butt"/>
<text x="524.7" y="676.76" font-size="12" text-anchor="middle" font-weight="normal">**</text>
<line x1="470.3" y1="889.8" x2="474.3" y2="889.8" stroke="#000" stroke-width="1.1" stroke-linecap="butt"/>
<line x1="470.3" y1="905.6999999999999" x2="474.3" y2="905.6999999999999" stroke="#000" stroke-width="1.1" stroke-linecap="butt"/>
<line x1="506.4" y1="888.9" x2="513.0" y2="888.9" stroke="#000" stroke-width="1.1" stroke-linecap="butt"/>
<line x1="509.7" y1="885.6" x2="509.7" y2="892.1999999999999" stroke="#000" stroke-width="1.1" stroke-linecap="butt"/>
<line x1="507.7" y1="905.6999999999999" x2="511.7" y2="905.6999999999999" stroke="#000" stroke-width="1.1" stroke-linecap="butt"/>
<line x1="543.8000000000001" y1="888.9" x2="550.4" y2="888.9" stroke="#000" stroke-width="1.1" stroke-linecap="butt"/>
<line x1="547.1" y1="885.6" x2="547.1" y2="892.1999999999999" stroke="#000" stroke-width="1.1" stroke-linecap="butt"/>
<line x1="543.8000000000001" y1="904.8" x2="550.4" y2="904.8" stroke="#000" stroke-width="1.1" stroke-linecap="butt"/>
<line x1="547.1" y1="901.5" x2="547.1" y2="908.0999999999999" stroke="#000" stroke-width="1.1" stroke-linecap="butt"/>
<line x1="583.0" y1="889.8" x2="587.0" y2="889.8" stroke="#000" stroke-width="1.1" stroke-linecap="butt"/>
<line x1="581.7" y1="904.8" x2="588.3" y2="904.8" stroke="#000" stroke-width="1.1" stroke-linecap="butt"/>
<line x1="585" y1="901.5" x2="585" y2="908.0999999999999" stroke="#000" stroke-width="1.1" stroke-linecap="butt"/>
<line x1="620.6" y1="889.8" x2="624.6" y2="889.8" stroke="#000" stroke-width="1.1" stroke-linecap="butt"/>
<line x1="620.6" y1="905.6999999999999" x2="624.6" y2="905.6999999999999" stroke="#000" stroke-width="1.1" stroke-linecap="butt"/>
<line x1="656.7" y1="888.9" x2="663.3" y2="888.9" stroke="#000" stroke-width="1.1" stroke-linecap="butt"/>
<line x1="660" y1="885.6" x2="660" y2="892.1999999999999" stroke="#000" stroke-width="1.1" stroke-linecap="butt"/>
<line x1="658.0" y1="905.6999999999999" x2="662.0" y2="905.6999999999999" stroke="#000" stroke-width="1.1" stroke-linecap="butt"/>
<line x1="694.6" y1="888.9" x2="701.1999999999999" y2="888.9" stroke="#000" stroke-width="1.1" stroke-linecap="butt"/>
<line x1="697.9" y1="885.6" x2="697.9" y2="892.1999999999999" stroke="#000" stroke-width="1.1" stroke-linecap="butt"/>
<line x1="694.6" y1="904.8" x2="701.1999999999999" y2="904.8" stroke="#000" stroke-width="1.1" stroke-linecap="butt"/>
<line x1="697.9" y1="901.5" x2="697.9" y2="908.0999999999999" stroke="#000" stroke-width="1.1" stroke-linecap="butt"/>
<line x1="733.8" y1="889.8" x2="737.8" y2="889.8" stroke="#000" stroke-width="1.1" stroke-linecap="butt"/>
<line x1="732.5" y1="904.8" x2="739.0999999999999" y2="904.8" stroke="#000" stroke-width="1.1" stroke-linecap="butt"/>
<line x1="735.8" y1="901.5" x2="735.8" y2="908.0999999999999" stroke="#000" stroke-width="1.1" stroke-linecap="butt"/>
<text x="424.0" y="896.4" font-size="13.7" text-anchor="start" font-weight="normal">IL-2</text>
<text x="424.0" y="912.2" font-size="13.7" text-anchor="start" font-weight="normal">IFN-γ</text>
<text x="527.9" y="926.5" font-size="13.7" text-anchor="middle" font-weight="normal">Blood</text>
<text x="680.5" y="926.5" font-size="13.7" text-anchor="middle" font-weight="normal">BAL</text>
</svg></body></html>
